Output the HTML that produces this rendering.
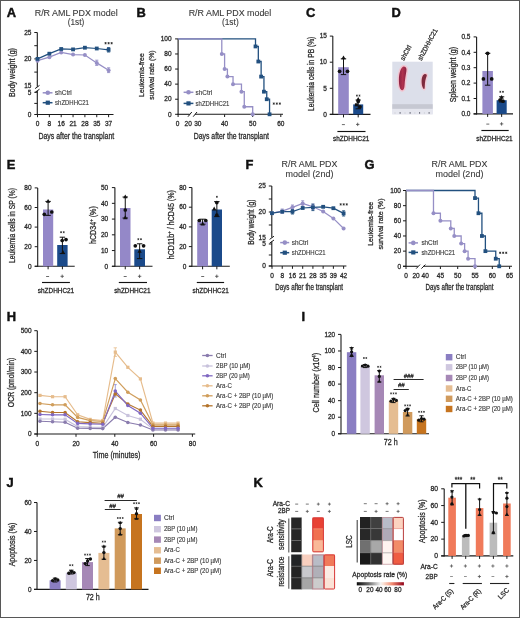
<!DOCTYPE html>
<html><head><meta charset="utf-8"><title>Figure</title>
<style>
html,body{margin:0;padding:0;background:#fff;}
body{width:520px;height:618px;overflow:hidden;position:relative;}
svg{display:block;will-change:transform;filter:blur(0.35px);}
text{font-family:"Liberation Sans", sans-serif;fill:#2a2a2a;stroke:#2a2a2a;stroke-width:0.28px;}
text.t{fill:#3a3a3a;stroke:#3a3a3a;stroke-width:0.1px;}
text.g{fill:#3c3c3c;stroke:#3c3c3c;stroke-width:0.14px;}
text.L{fill:#111;stroke:#111;stroke-width:0.45px;font-weight:bold;}
</style></head><body>
<svg width="520" height="618" viewBox="0 0 520 618">
<rect x="0" y="0" width="520" height="618" fill="#fff"/>
<text x="6.8" y="17.2" font-size="12.9" class="L">A</text>
<text x="76.2" y="15.8" font-size="8.2" text-anchor="middle" fill="#333" textLength="83" lengthAdjust="spacingAndGlyphs" class="t">R/R AML PDX model</text>
<text x="76" y="25.4" font-size="8.2" text-anchor="middle" fill="#333" textLength="16.5" lengthAdjust="spacingAndGlyphs" class="t">(1st)</text>
<line x1="37.3" y1="32.5" x2="37.3" y2="86.8" stroke="#1a1a1a" stroke-width="1.1"/>
<line x1="37.3" y1="90.8" x2="37.3" y2="115" stroke="#1a1a1a" stroke-width="1.1"/>
<line x1="34.3" y1="32.5" x2="37.3" y2="32.5" stroke="#1a1a1a" stroke-width="1"/>
<line x1="34.3" y1="45.7" x2="37.3" y2="45.7" stroke="#1a1a1a" stroke-width="1"/>
<line x1="34.3" y1="58.9" x2="37.3" y2="58.9" stroke="#1a1a1a" stroke-width="1"/>
<line x1="34.3" y1="72.1" x2="37.3" y2="72.1" stroke="#1a1a1a" stroke-width="1"/>
<line x1="34.3" y1="92.3" x2="37.3" y2="92.3" stroke="#1a1a1a" stroke-width="1"/>
<line x1="34.3" y1="103.4" x2="37.3" y2="103.4" stroke="#1a1a1a" stroke-width="1"/>
<line x1="34.3" y1="114.5" x2="37.3" y2="114.5" stroke="#1a1a1a" stroke-width="1"/>
<line x1="35.1" y1="88.6" x2="39.5" y2="85.4" stroke="#1a1a1a" stroke-width="1"/>
<line x1="35.1" y1="92.4" x2="39.5" y2="89.2" stroke="#1a1a1a" stroke-width="1"/>
<text x="31.4" y="34.74" font-size="6.5" text-anchor="end" fill="#333">25</text>
<text x="31.4" y="61.14" font-size="6.5" text-anchor="end" fill="#333">20</text>
<text x="31.4" y="87.84" font-size="6.5" text-anchor="end" fill="#333">15</text>
<text x="31.4" y="94.64" font-size="6.5" text-anchor="end" fill="#333">5</text>
<text x="31.4" y="116.74" font-size="6.5" text-anchor="end" fill="#333">0</text>
<text x="0" y="0" font-size="8.6" text-anchor="middle" transform="translate(14.9 72.5) rotate(-90)" textLength="48.8" lengthAdjust="spacingAndGlyphs">Body weight (g)</text>
<line x1="36.8" y1="114.5" x2="113.5" y2="114.5" stroke="#1a1a1a" stroke-width="1"/>
<line x1="37.5" y1="114.5" x2="37.5" y2="117.2" stroke="#1a1a1a" stroke-width="1"/>
<text x="37.5" y="126.34" font-size="6.5" text-anchor="middle" fill="#333">0</text>
<line x1="49.35" y1="114.5" x2="49.35" y2="117.2" stroke="#1a1a1a" stroke-width="1"/>
<text x="49.35" y="126.34" font-size="6.5" text-anchor="middle" fill="#333">8</text>
<line x1="61.2" y1="114.5" x2="61.2" y2="117.2" stroke="#1a1a1a" stroke-width="1"/>
<text x="61.2" y="126.34" font-size="6.5" text-anchor="middle" fill="#333">16</text>
<line x1="73.05" y1="114.5" x2="73.05" y2="117.2" stroke="#1a1a1a" stroke-width="1"/>
<text x="73.05" y="126.34" font-size="6.5" text-anchor="middle" fill="#333">21</text>
<line x1="84.9" y1="114.5" x2="84.9" y2="117.2" stroke="#1a1a1a" stroke-width="1"/>
<text x="84.9" y="126.34" font-size="6.5" text-anchor="middle" fill="#333">28</text>
<line x1="96.75" y1="114.5" x2="96.75" y2="117.2" stroke="#1a1a1a" stroke-width="1"/>
<text x="96.75" y="126.34" font-size="6.5" text-anchor="middle" fill="#333">35</text>
<line x1="108.6" y1="114.5" x2="108.6" y2="117.2" stroke="#1a1a1a" stroke-width="1"/>
<text x="108.6" y="126.34" font-size="6.5" text-anchor="middle" fill="#333">37</text>
<text x="76.3" y="138.8" font-size="8.6" text-anchor="middle" textLength="75.8" lengthAdjust="spacingAndGlyphs">Days after the transplant</text>
<polyline points="37.5,60.7 49.35,57.2 61.2,52.5 73.05,54.6 84.9,55 96.75,62.9 108.6,70.2" fill="none" stroke="#968fc6" stroke-width="1.25" stroke-linejoin="miter"/>
<polyline points="37.5,58.9 49.35,53.7 61.2,49 73.05,49.4 84.9,47.7 96.75,48.5 108.6,49.8" fill="none" stroke="#22507f" stroke-width="1.25" stroke-linejoin="miter"/>
<line x1="96.75" y1="60.2" x2="96.75" y2="65.4" stroke="#968fc6" stroke-width="0.9"/>
<line x1="95.15" y1="60.2" x2="98.35" y2="60.2" stroke="#968fc6" stroke-width="0.9"/>
<line x1="95.15" y1="65.4" x2="98.35" y2="65.4" stroke="#968fc6" stroke-width="0.9"/>
<line x1="108.6" y1="67.8" x2="108.6" y2="72.6" stroke="#968fc6" stroke-width="0.9"/>
<line x1="107" y1="67.8" x2="110.2" y2="67.8" stroke="#968fc6" stroke-width="0.9"/>
<line x1="107" y1="72.6" x2="110.2" y2="72.6" stroke="#968fc6" stroke-width="0.9"/>
<line x1="108.6" y1="47.6" x2="108.6" y2="52" stroke="#22507f" stroke-width="0.9"/>
<line x1="107" y1="47.6" x2="110.2" y2="47.6" stroke="#22507f" stroke-width="0.9"/>
<line x1="107" y1="52" x2="110.2" y2="52" stroke="#22507f" stroke-width="0.9"/>
<circle cx="37.5" cy="60.7" r="2" fill="#968fc6"/>
<circle cx="49.35" cy="57.2" r="2" fill="#968fc6"/>
<circle cx="61.2" cy="52.5" r="2" fill="#968fc6"/>
<circle cx="73.05" cy="54.6" r="2" fill="#968fc6"/>
<circle cx="84.9" cy="55" r="2" fill="#968fc6"/>
<circle cx="96.75" cy="62.9" r="2" fill="#968fc6"/>
<circle cx="108.6" cy="70.2" r="2" fill="#968fc6"/>
<rect x="35.6" y="57" width="3.8" height="3.8" fill="#22507f"/>
<rect x="47.45" y="51.8" width="3.8" height="3.8" fill="#22507f"/>
<rect x="59.3" y="47.1" width="3.8" height="3.8" fill="#22507f"/>
<rect x="71.15" y="47.5" width="3.8" height="3.8" fill="#22507f"/>
<rect x="83" y="45.8" width="3.8" height="3.8" fill="#22507f"/>
<rect x="94.85" y="46.6" width="3.8" height="3.8" fill="#22507f"/>
<rect x="106.7" y="47.9" width="3.8" height="3.8" fill="#22507f"/>
<path d="M105.57 42.09V44.31M104.6 42.65L106.53 43.76M104.6 43.76L106.53 42.65M108.6 42.09V44.31M107.63 42.65L109.57 43.76M107.63 43.76L109.57 42.65M111.63 42.09V44.31M110.67 42.65L112.6 43.76M110.67 43.76L112.6 42.65" stroke="#2a2a2a" stroke-width="0.81" fill="none"/>
<line x1="42.7" y1="92.8" x2="52.5" y2="92.8" stroke="#968fc6" stroke-width="1.5"/>
<circle cx="47.8" cy="92.8" r="2.3" fill="#968fc6"/>
<text x="55.1" y="94.9" font-size="6.5" fill="#444" textLength="16.6" lengthAdjust="spacingAndGlyphs" class="g">shCtrl</text>
<line x1="42.7" y1="102.7" x2="52.5" y2="102.7" stroke="#22507f" stroke-width="1.5"/>
<rect x="45.7" y="100.6" width="4.2" height="4.2" fill="#22507f"/>
<text x="55.1" y="104.8" font-size="6.5" fill="#444" textLength="33.8" lengthAdjust="spacingAndGlyphs" class="g">shZDHHC21</text>
<text x="136.6" y="17.2" font-size="12.9" class="L">B</text>
<text x="230" y="15.9" font-size="8.2" text-anchor="middle" fill="#333" textLength="82.6" lengthAdjust="spacingAndGlyphs" class="t">R/R AML PDX model</text>
<text x="230.3" y="25.4" font-size="8.2" text-anchor="middle" fill="#333" textLength="16.8" lengthAdjust="spacingAndGlyphs" class="t">(1st)</text>
<line x1="178.1" y1="38.9" x2="178.1" y2="114.8" stroke="#1a1a1a" stroke-width="1.1"/>
<line x1="175.1" y1="114.3" x2="178.1" y2="114.3" stroke="#1a1a1a" stroke-width="1"/>
<line x1="175.1" y1="99.22" x2="178.1" y2="99.22" stroke="#1a1a1a" stroke-width="1"/>
<line x1="175.1" y1="84.14" x2="178.1" y2="84.14" stroke="#1a1a1a" stroke-width="1"/>
<line x1="175.1" y1="69.06" x2="178.1" y2="69.06" stroke="#1a1a1a" stroke-width="1"/>
<line x1="175.1" y1="53.98" x2="178.1" y2="53.98" stroke="#1a1a1a" stroke-width="1"/>
<line x1="175.1" y1="38.9" x2="178.1" y2="38.9" stroke="#1a1a1a" stroke-width="1"/>
<text x="171.6" y="116.54" font-size="6.5" text-anchor="end" fill="#333">0</text>
<text x="171.6" y="101.46" font-size="6.5" text-anchor="end" fill="#333">20</text>
<text x="171.6" y="86.38" font-size="6.5" text-anchor="end" fill="#333">40</text>
<text x="171.6" y="71.3" font-size="6.5" text-anchor="end" fill="#333">60</text>
<text x="171.6" y="56.22" font-size="6.5" text-anchor="end" fill="#333">80</text>
<text x="171.6" y="41.14" font-size="6.5" text-anchor="end" fill="#333">100</text>
<text x="0" y="0" font-size="8" text-anchor="middle" transform="translate(144.4 75.1) rotate(-90)" textLength="43.6" lengthAdjust="spacingAndGlyphs">Leukemia-free</text>
<text x="0" y="0" font-size="8" text-anchor="middle" transform="translate(154 75.1) rotate(-90)" textLength="49.4" lengthAdjust="spacingAndGlyphs">survival rate (%)</text>
<line x1="177.6" y1="114.3" x2="189.8" y2="114.3" stroke="#1a1a1a" stroke-width="1.1"/>
<line x1="195" y1="114.3" x2="283" y2="114.3" stroke="#1a1a1a" stroke-width="1.1"/>
<line x1="188" y1="116.7" x2="191.8" y2="112" stroke="#1a1a1a" stroke-width="1"/>
<line x1="193.2" y1="116.7" x2="197" y2="112" stroke="#1a1a1a" stroke-width="1"/>
<line x1="224.6" y1="114.3" x2="224.6" y2="117" stroke="#1a1a1a" stroke-width="1"/>
<line x1="252.7" y1="114.3" x2="252.7" y2="117" stroke="#1a1a1a" stroke-width="1"/>
<line x1="280.8" y1="114.3" x2="280.8" y2="117" stroke="#1a1a1a" stroke-width="1"/>
<line x1="178.1" y1="114.3" x2="178.1" y2="117" stroke="#1a1a1a" stroke-width="1"/>
<text x="177.6" y="126.34" font-size="6.5" text-anchor="middle" fill="#333">0</text>
<text x="188.2" y="126.34" font-size="6.5" text-anchor="middle" fill="#333">20</text>
<text x="197.8" y="126.34" font-size="6.5" text-anchor="middle" fill="#333">30</text>
<text x="224.6" y="126.34" font-size="6.5" text-anchor="middle" fill="#333">40</text>
<text x="252.7" y="126.34" font-size="6.5" text-anchor="middle" fill="#333">50</text>
<text x="280.8" y="126.34" font-size="6.5" text-anchor="middle" fill="#333">60</text>
<text x="231.3" y="138.8" font-size="8.6" text-anchor="middle" textLength="75.2" lengthAdjust="spacingAndGlyphs">Days after the transplant</text>
<polyline points="178.1,38.9 255.51,38.9 255.51,46.44 258.32,46.44 258.32,61.52 261.13,61.52 261.13,76.6 263.94,76.6 263.94,91.68 266.75,91.68 266.75,99.22 269.56,99.22 269.56,114.3" fill="none" stroke="#22507f" stroke-width="1.3" stroke-linejoin="miter"/>
<polyline points="178.1,38.9 221.79,38.9 221.79,53.98 224.6,53.98 224.6,69.06 227.41,69.06 227.41,76.6 233.03,76.6 233.03,84.14 241.46,84.14 241.46,91.68 244.27,91.68 244.27,106.76 252.7,106.76 252.7,114.3" fill="none" stroke="#968fc6" stroke-width="1.3" stroke-linejoin="miter"/>
<circle cx="221.79" cy="53.98" r="2" fill="#968fc6"/>
<circle cx="224.6" cy="69.06" r="2" fill="#968fc6"/>
<circle cx="227.41" cy="76.6" r="2" fill="#968fc6"/>
<circle cx="233.03" cy="84.14" r="2" fill="#968fc6"/>
<circle cx="241.46" cy="91.68" r="2" fill="#968fc6"/>
<circle cx="244.27" cy="106.76" r="2" fill="#968fc6"/>
<circle cx="252.7" cy="114.3" r="2" fill="#968fc6"/>
<rect x="253.61" y="44.54" width="3.8" height="3.8" fill="#22507f"/>
<rect x="256.42" y="59.62" width="3.8" height="3.8" fill="#22507f"/>
<rect x="259.23" y="74.7" width="3.8" height="3.8" fill="#22507f"/>
<rect x="262.04" y="89.78" width="3.8" height="3.8" fill="#22507f"/>
<rect x="264.85" y="97.32" width="3.8" height="3.8" fill="#22507f"/>
<rect x="267.66" y="112.4" width="3.8" height="3.8" fill="#22507f"/>
<path d="M273.77 102.49V104.71M272.8 103.04L274.73 104.16M272.8 104.16L274.73 103.04M276.8 102.49V104.71M275.83 103.04L277.77 104.16M275.83 104.16L277.77 103.04M279.83 102.49V104.71M278.87 103.04L280.8 104.16M278.87 104.16L280.8 103.04" stroke="#2a2a2a" stroke-width="0.81" fill="none"/>
<line x1="183.6" y1="92.3" x2="193.4" y2="92.3" stroke="#968fc6" stroke-width="1.5"/>
<circle cx="188.5" cy="92.3" r="2.3" fill="#968fc6"/>
<text x="195.6" y="94.6" font-size="6.5" fill="#444" textLength="16.6" lengthAdjust="spacingAndGlyphs" class="g">shCtrl</text>
<line x1="183.6" y1="103.4" x2="193.4" y2="103.4" stroke="#22507f" stroke-width="1.5"/>
<rect x="186.4" y="101.3" width="4.2" height="4.2" fill="#22507f"/>
<text x="195.6" y="105.7" font-size="6.5" fill="#444" textLength="33.8" lengthAdjust="spacingAndGlyphs" class="g">shZDHHC21</text>
<text x="306" y="17.2" font-size="12.9" class="L">C</text>
<line x1="332.8" y1="36.1" x2="332.8" y2="114.9" stroke="#1a1a1a" stroke-width="1.1"/>
<line x1="329.8" y1="114.4" x2="332.8" y2="114.4" stroke="#1a1a1a" stroke-width="1"/>
<line x1="329.8" y1="88.3" x2="332.8" y2="88.3" stroke="#1a1a1a" stroke-width="1"/>
<line x1="329.8" y1="62.2" x2="332.8" y2="62.2" stroke="#1a1a1a" stroke-width="1"/>
<line x1="329.8" y1="36.1" x2="332.8" y2="36.1" stroke="#1a1a1a" stroke-width="1"/>
<text x="326.9" y="116.64" font-size="6.5" text-anchor="end" fill="#333">0</text>
<text x="326.9" y="90.54" font-size="6.5" text-anchor="end" fill="#333">5</text>
<text x="326.9" y="64.44" font-size="6.5" text-anchor="end" fill="#333">10</text>
<text x="326.9" y="38.34" font-size="6.5" text-anchor="end" fill="#333">15</text>
<line x1="329.8" y1="114.4" x2="370.5" y2="114.4" stroke="#1a1a1a" stroke-width="1.1"/>
<rect x="338.2" y="67.2" width="10.6" height="47.2" fill="#9488c8"/>
<line x1="343.5" y1="114.4" x2="343.5" y2="117.4" stroke="#1a1a1a" stroke-width="1"/>
<rect x="353.2" y="104.4" width="10" height="10" fill="#1b4a8a"/>
<line x1="358.2" y1="114.4" x2="358.2" y2="117.4" stroke="#1a1a1a" stroke-width="1"/>
<line x1="343.5" y1="58.8" x2="343.5" y2="74.6" stroke="#111" stroke-width="1"/>
<line x1="340.8" y1="58.8" x2="346.2" y2="58.8" stroke="#111" stroke-width="1"/>
<line x1="340.8" y1="74.6" x2="346.2" y2="74.6" stroke="#111" stroke-width="1"/>
<path d="M343.5 55.48L345.65 59.35L341.35 59.35Z" fill="#111"/>
<circle cx="339.6" cy="71.3" r="1.85" fill="#111"/>
<circle cx="347.5" cy="71.3" r="1.85" fill="#111"/>
<line x1="358.2" y1="100" x2="358.2" y2="108.8" stroke="#111" stroke-width="1"/>
<line x1="355.6" y1="100" x2="360.8" y2="100" stroke="#111" stroke-width="1"/>
<line x1="355.6" y1="108.8" x2="360.8" y2="108.8" stroke="#111" stroke-width="1"/>
<path d="M358.2 96.88L360.35 100.75L356.05 100.75Z" fill="#111"/>
<circle cx="358.2" cy="101.4" r="1.85" fill="#111"/>
<rect x="354.9" y="103.3" width="3" height="3" fill="#111"/>
<circle cx="360" cy="106.8" r="1.85" fill="#111"/>
<path d="M356.89 94.64V96.56M356.05 95.12L357.72 96.08M356.05 96.08L357.72 95.12M359.51 94.64V96.56M358.68 95.12L360.35 96.08M358.68 96.08L360.35 95.12" stroke="#2a2a2a" stroke-width="0.7" fill="none"/>
<text x="0" y="0" font-size="8.6" text-anchor="middle" transform="translate(314 73.8) rotate(-90)" textLength="74.3" lengthAdjust="spacingAndGlyphs">Leukemia cells in PB (%)</text>
<line x1="341.9" y1="124.6" x2="344.9" y2="124.6" stroke="#444" stroke-width="0.8"/>
<line x1="356" y1="124.4" x2="359.4" y2="124.4" stroke="#444" stroke-width="0.8"/>
<line x1="357.7" y1="122.7" x2="357.7" y2="126.1" stroke="#444" stroke-width="0.8"/>
<line x1="337.4" y1="131.5" x2="365.5" y2="131.5" stroke="#111" stroke-width="1.15"/>
<text x="351.2" y="141" font-size="6.5" text-anchor="middle" fill="#333" textLength="36.3" lengthAdjust="spacingAndGlyphs">shZDHHC21</text>
<text x="391.4" y="17.2" font-size="12.9" class="L">D</text>
<rect x="392.3" y="61.7" width="40.4" height="52.6" fill="#dcdfea"/>
<rect x="392.3" y="104.2" width="40.4" height="4.7" fill="#c6c8d2"/>
<rect x="392.3" y="108.9" width="40.4" height="5.4" fill="#e6e7ef"/>
<line x1="400.1" y1="112" x2="400.1" y2="113.8" stroke="#6a6d79" stroke-width="1"/>
<line x1="410.1" y1="112" x2="410.1" y2="113.8" stroke="#6a6d79" stroke-width="1"/>
<line x1="419.6" y1="112" x2="419.6" y2="113.8" stroke="#6a6d79" stroke-width="1"/>
<line x1="429.1" y1="112" x2="429.1" y2="113.8" stroke="#6a6d79" stroke-width="1"/>
<line x1="395" y1="112.6" x2="395" y2="113.4" stroke="#a0a3ad" stroke-width="0.6"/>
<line x1="405" y1="112.6" x2="405" y2="113.4" stroke="#a0a3ad" stroke-width="0.6"/>
<line x1="414.8" y1="112.6" x2="414.8" y2="113.4" stroke="#a0a3ad" stroke-width="0.6"/>
<line x1="424.4" y1="112.6" x2="424.4" y2="113.4" stroke="#a0a3ad" stroke-width="0.6"/>
<defs><filter id="bl" x="-50%" y="-50%" width="200%" height="200%"><feGaussianBlur stdDeviation="0.45"/></filter><linearGradient id="sp1" x1="0" x2="1" y1="0" y2="0"><stop offset="0" stop-color="#8c2242"/><stop offset="0.5" stop-color="#b0324f"/><stop offset="1" stop-color="#862240"/></linearGradient></defs>
<g filter="url(#bl)">
<path d="M404 66.4 C406.2 66.6 406.8 68.5 406.4 71 C405.8 75 404.8 80 404.6 85 C404.4 88.5 403.6 90.4 402.2 90.2 C400 89.8 398.9 86 398.9 80 C398.9 73 401 66.3 404 66.4 Z" fill="none" stroke="#f2c4d0" stroke-width="3.0"/>
<path d="M424.9 74.1 C426.3 74.0 427.2 74.8 426.6 76.2 C425.6 78.5 424.9 82 424.8 86 C424.7 88 424.6 89.2 424.0 89.0 C422.6 88.4 421.6 85 421.6 81.5 C421.6 77.5 423 74.2 424.9 74.1 Z" fill="none" stroke="#f2cad4" stroke-width="2.8"/>
<path d="M404 66.4 C406.2 66.6 406.8 68.5 406.4 71 C405.8 75 404.8 80 404.6 85 C404.4 88.5 403.6 90.4 402.2 90.2 C400 89.8 398.9 86 398.9 80 C398.9 73 401 66.3 404 66.4 Z" fill="url(#sp1)"/>
<path d="M424.9 74.1 C426.3 74.0 427.2 74.8 426.6 76.2 C425.6 78.5 424.9 82 424.8 86 C424.7 88 424.6 89.2 424.0 89.0 C422.6 88.4 421.6 85 421.6 81.5 C421.6 77.5 423 74.2 424.9 74.1 Z" fill="#7e2a3c"/>
</g>
<text x="0" y="0" font-size="6.8" fill="#333" transform="translate(404.0 61.0) rotate(-62)" textLength="16.2" lengthAdjust="spacingAndGlyphs">shCtrl</text>
<text x="0" y="0" font-size="6.8" fill="#333" transform="translate(421.4 61.0) rotate(-62)" textLength="35.0" lengthAdjust="spacingAndGlyphs">shZDHHC21</text>
<line x1="476.6" y1="36.9" x2="476.6" y2="114.4" stroke="#1a1a1a" stroke-width="1.1"/>
<line x1="473.6" y1="113.9" x2="476.6" y2="113.9" stroke="#1a1a1a" stroke-width="1"/>
<line x1="473.6" y1="98.5" x2="476.6" y2="98.5" stroke="#1a1a1a" stroke-width="1"/>
<line x1="473.6" y1="83.1" x2="476.6" y2="83.1" stroke="#1a1a1a" stroke-width="1"/>
<line x1="473.6" y1="67.7" x2="476.6" y2="67.7" stroke="#1a1a1a" stroke-width="1"/>
<line x1="473.6" y1="52.3" x2="476.6" y2="52.3" stroke="#1a1a1a" stroke-width="1"/>
<line x1="473.6" y1="36.9" x2="476.6" y2="36.9" stroke="#1a1a1a" stroke-width="1"/>
<text x="470.5" y="116.14" font-size="6.5" text-anchor="end" fill="#333">0.0</text>
<text x="470.5" y="100.74" font-size="6.5" text-anchor="end" fill="#333">0.1</text>
<text x="470.5" y="85.34" font-size="6.5" text-anchor="end" fill="#333">0.2</text>
<text x="470.5" y="69.94" font-size="6.5" text-anchor="end" fill="#333">0.3</text>
<text x="470.5" y="54.54" font-size="6.5" text-anchor="end" fill="#333">0.4</text>
<text x="470.5" y="39.14" font-size="6.5" text-anchor="end" fill="#333">0.5</text>
<line x1="473.6" y1="113.9" x2="513" y2="113.9" stroke="#1a1a1a" stroke-width="1.1"/>
<rect x="482.4" y="71" width="10.5" height="42.9" fill="#9488c8"/>
<line x1="487.65" y1="113.9" x2="487.65" y2="116.9" stroke="#1a1a1a" stroke-width="1"/>
<rect x="496.6" y="100.2" width="10.1" height="13.7" fill="#1b4a8a"/>
<line x1="501.65" y1="113.9" x2="501.65" y2="116.9" stroke="#1a1a1a" stroke-width="1"/>
<line x1="487.65" y1="53.3" x2="487.65" y2="85.2" stroke="#111" stroke-width="1"/>
<line x1="484.95" y1="53.3" x2="490.35" y2="53.3" stroke="#111" stroke-width="1"/>
<line x1="484.95" y1="85.2" x2="490.35" y2="85.2" stroke="#111" stroke-width="1"/>
<circle cx="487.6" cy="53.3" r="1.85" fill="#111"/>
<circle cx="483.4" cy="78.9" r="1.85" fill="#111"/>
<circle cx="491.7" cy="78.9" r="1.85" fill="#111"/>
<line x1="501.65" y1="96.8" x2="501.65" y2="102" stroke="#111" stroke-width="1"/>
<line x1="499.05" y1="96.8" x2="504.25" y2="96.8" stroke="#111" stroke-width="1"/>
<line x1="499.05" y1="102" x2="504.25" y2="102" stroke="#111" stroke-width="1"/>
<path d="M501.6 94.88L503.75 98.75L499.45 98.75Z" fill="#111"/>
<circle cx="500" cy="100" r="1.85" fill="#111"/>
<circle cx="503" cy="101.2" r="1.85" fill="#111"/>
<path d="M500.34 90.84V92.76M499.5 91.32L501.17 92.28M499.5 92.28L501.17 91.32M502.96 90.84V92.76M502.13 91.32L503.8 92.28M502.13 92.28L503.8 91.32" stroke="#2a2a2a" stroke-width="0.7" fill="none"/>
<text x="0" y="0" font-size="8.6" text-anchor="middle" transform="translate(456 74.5) rotate(-90)" textLength="55.4" lengthAdjust="spacingAndGlyphs">Spleen weight (g)</text>
<line x1="486.3" y1="124.1" x2="489.3" y2="124.1" stroke="#444" stroke-width="0.8"/>
<line x1="499.9" y1="123.9" x2="503.3" y2="123.9" stroke="#444" stroke-width="0.8"/>
<line x1="501.6" y1="122.2" x2="501.6" y2="125.6" stroke="#444" stroke-width="0.8"/>
<line x1="481.4" y1="130.5" x2="508.7" y2="130.5" stroke="#111" stroke-width="1.15"/>
<text x="494.5" y="140.5" font-size="6.5" text-anchor="middle" fill="#333" textLength="36.3" lengthAdjust="spacingAndGlyphs">shZDHHC21</text>
<text x="6.8" y="169.4" font-size="12.9" class="L">E</text>
<line x1="37.7" y1="187.9" x2="37.7" y2="266.8" stroke="#1a1a1a" stroke-width="1.1"/>
<line x1="34.7" y1="266.3" x2="37.7" y2="266.3" stroke="#1a1a1a" stroke-width="1"/>
<line x1="34.7" y1="246.7" x2="37.7" y2="246.7" stroke="#1a1a1a" stroke-width="1"/>
<line x1="34.7" y1="227.1" x2="37.7" y2="227.1" stroke="#1a1a1a" stroke-width="1"/>
<line x1="34.7" y1="207.5" x2="37.7" y2="207.5" stroke="#1a1a1a" stroke-width="1"/>
<line x1="34.7" y1="187.9" x2="37.7" y2="187.9" stroke="#1a1a1a" stroke-width="1"/>
<text x="31.6" y="268.54" font-size="6.5" text-anchor="end" fill="#333">0</text>
<text x="31.6" y="248.94" font-size="6.5" text-anchor="end" fill="#333">20</text>
<text x="31.6" y="229.34" font-size="6.5" text-anchor="end" fill="#333">40</text>
<text x="31.6" y="209.74" font-size="6.5" text-anchor="end" fill="#333">60</text>
<text x="31.6" y="190.14" font-size="6.5" text-anchor="end" fill="#333">80</text>
<line x1="34.7" y1="266.3" x2="74.7" y2="266.3" stroke="#1a1a1a" stroke-width="1.1"/>
<rect x="43" y="209.5" width="10.2" height="56.8" fill="#9488c8"/>
<line x1="48.1" y1="266.3" x2="48.1" y2="269.3" stroke="#1a1a1a" stroke-width="1"/>
<rect x="57.2" y="245" width="10.4" height="21.3" fill="#1b4a8a"/>
<line x1="62.4" y1="266.3" x2="62.4" y2="269.3" stroke="#1a1a1a" stroke-width="1"/>
<line x1="48.1" y1="201.4" x2="48.1" y2="215.4" stroke="#111" stroke-width="1"/>
<line x1="45.4" y1="201.4" x2="50.8" y2="201.4" stroke="#111" stroke-width="1"/>
<line x1="45.4" y1="215.4" x2="50.8" y2="215.4" stroke="#111" stroke-width="1"/>
<path d="M48.1 198.88L50.25 202.75L45.95 202.75Z" fill="#111"/>
<circle cx="44.3" cy="214.3" r="1.85" fill="#111"/>
<circle cx="51.8" cy="212" r="1.85" fill="#111"/>
<line x1="62.4" y1="237.2" x2="62.4" y2="253.6" stroke="#111" stroke-width="1"/>
<line x1="59.7" y1="237.2" x2="65.1" y2="237.2" stroke="#111" stroke-width="1"/>
<line x1="59.7" y1="253.6" x2="65.1" y2="253.6" stroke="#111" stroke-width="1"/>
<circle cx="66" cy="239.6" r="1.85" fill="#111"/>
<circle cx="62.2" cy="240.5" r="1.85" fill="#111"/>
<path d="M63 250.08L65.15 253.95L60.85 253.95Z" fill="#111"/>
<path d="M61.09 231.24V233.16M60.25 231.72L61.92 232.68M60.25 232.68L61.92 231.72M63.71 231.24V233.16M62.88 231.72L64.55 232.68M62.88 232.68L64.55 231.72" stroke="#2a2a2a" stroke-width="0.7" fill="none"/>
<text x="0" y="0" font-size="8.6" text-anchor="middle" transform="translate(14.9 225.5) rotate(-90)" textLength="74.9" lengthAdjust="spacingAndGlyphs">Leukemia cells in SP (%)</text>
<line x1="46.1" y1="276.5" x2="49.1" y2="276.5" stroke="#444" stroke-width="0.8"/>
<line x1="60.5" y1="276.3" x2="63.9" y2="276.3" stroke="#444" stroke-width="0.8"/>
<line x1="62.2" y1="274.6" x2="62.2" y2="278" stroke="#444" stroke-width="0.8"/>
<line x1="42" y1="282.5" x2="69.9" y2="282.5" stroke="#111" stroke-width="1.15"/>
<text x="56" y="292.9" font-size="6.5" text-anchor="middle" fill="#333" textLength="36.3" lengthAdjust="spacingAndGlyphs">shZDHHC21</text>
<line x1="114.9" y1="187.6" x2="114.9" y2="266.8" stroke="#1a1a1a" stroke-width="1.1"/>
<line x1="111.9" y1="266.3" x2="114.9" y2="266.3" stroke="#1a1a1a" stroke-width="1"/>
<line x1="111.9" y1="250.56" x2="114.9" y2="250.56" stroke="#1a1a1a" stroke-width="1"/>
<line x1="111.9" y1="234.82" x2="114.9" y2="234.82" stroke="#1a1a1a" stroke-width="1"/>
<line x1="111.9" y1="219.08" x2="114.9" y2="219.08" stroke="#1a1a1a" stroke-width="1"/>
<line x1="111.9" y1="203.34" x2="114.9" y2="203.34" stroke="#1a1a1a" stroke-width="1"/>
<line x1="111.9" y1="187.6" x2="114.9" y2="187.6" stroke="#1a1a1a" stroke-width="1"/>
<text x="108.2" y="268.54" font-size="6.5" text-anchor="end" fill="#333">0</text>
<text x="108.2" y="252.8" font-size="6.5" text-anchor="end" fill="#333">10</text>
<text x="108.2" y="237.06" font-size="6.5" text-anchor="end" fill="#333">20</text>
<text x="108.2" y="221.32" font-size="6.5" text-anchor="end" fill="#333">30</text>
<text x="108.2" y="205.58" font-size="6.5" text-anchor="end" fill="#333">40</text>
<text x="108.2" y="189.84" font-size="6.5" text-anchor="end" fill="#333">50</text>
<line x1="111.9" y1="266.3" x2="152.5" y2="266.3" stroke="#1a1a1a" stroke-width="1.1"/>
<rect x="120" y="208" width="10.5" height="58.3" fill="#9488c8"/>
<line x1="125.25" y1="266.3" x2="125.25" y2="269.3" stroke="#1a1a1a" stroke-width="1"/>
<rect x="134.3" y="249.3" width="10.7" height="17" fill="#1b4a8a"/>
<line x1="139.65" y1="266.3" x2="139.65" y2="269.3" stroke="#1a1a1a" stroke-width="1"/>
<line x1="125.25" y1="197" x2="125.25" y2="218" stroke="#111" stroke-width="1"/>
<line x1="122.55" y1="197" x2="127.95" y2="197" stroke="#111" stroke-width="1"/>
<line x1="122.55" y1="218" x2="127.95" y2="218" stroke="#111" stroke-width="1"/>
<path d="M125.3 194.48L127.45 198.35L123.15 198.35Z" fill="#111"/>
<circle cx="125.3" cy="210" r="1.85" fill="#111"/>
<path d="M125.3 215.28L127.45 219.15L123.15 219.15Z" fill="#111"/>
<line x1="139.65" y1="243.8" x2="139.65" y2="258.6" stroke="#111" stroke-width="1"/>
<line x1="136.95" y1="243.8" x2="142.35" y2="243.8" stroke="#111" stroke-width="1"/>
<line x1="136.95" y1="258.6" x2="142.35" y2="258.6" stroke="#111" stroke-width="1"/>
<circle cx="135.3" cy="245.8" r="1.85" fill="#111"/>
<circle cx="143.6" cy="245.8" r="1.85" fill="#111"/>
<path d="M139.6 248.88L141.75 252.75L137.45 252.75Z" fill="#111"/>
<path d="M138.34 238.24V240.16M137.5 238.72L139.17 239.68M137.5 239.68L139.17 238.72M140.96 238.24V240.16M140.13 238.72L141.8 239.68M140.13 239.68L141.8 238.72" stroke="#2a2a2a" stroke-width="0.7" fill="none"/>
<text x="0" y="0" font-size="8.6" text-anchor="middle" transform="translate(95.9 225.1) rotate(-90)" textLength="37.8" lengthAdjust="spacingAndGlyphs">hCD34<tspan font-size="5.4" dy="-3">+</tspan><tspan dy="3"> (%)</tspan></text>
<line x1="123.7" y1="276.5" x2="126.7" y2="276.5" stroke="#444" stroke-width="0.8"/>
<line x1="137.9" y1="276.3" x2="141.3" y2="276.3" stroke="#444" stroke-width="0.8"/>
<line x1="139.6" y1="274.6" x2="139.6" y2="278" stroke="#444" stroke-width="0.8"/>
<line x1="118.8" y1="282.5" x2="147" y2="282.5" stroke="#111" stroke-width="1.15"/>
<text x="132.3" y="292.9" font-size="6.5" text-anchor="middle" fill="#333" textLength="36.3" lengthAdjust="spacingAndGlyphs">shZDHHC21</text>
<line x1="191.9" y1="187.5" x2="191.9" y2="266.8" stroke="#1a1a1a" stroke-width="1.1"/>
<line x1="188.9" y1="266.3" x2="191.9" y2="266.3" stroke="#1a1a1a" stroke-width="1"/>
<line x1="188.9" y1="246.6" x2="191.9" y2="246.6" stroke="#1a1a1a" stroke-width="1"/>
<line x1="188.9" y1="226.9" x2="191.9" y2="226.9" stroke="#1a1a1a" stroke-width="1"/>
<line x1="188.9" y1="207.2" x2="191.9" y2="207.2" stroke="#1a1a1a" stroke-width="1"/>
<line x1="188.9" y1="187.5" x2="191.9" y2="187.5" stroke="#1a1a1a" stroke-width="1"/>
<text x="186.4" y="268.54" font-size="6.5" text-anchor="end" fill="#333">0</text>
<text x="186.4" y="248.84" font-size="6.5" text-anchor="end" fill="#333">20</text>
<text x="186.4" y="229.14" font-size="6.5" text-anchor="end" fill="#333">40</text>
<text x="186.4" y="209.44" font-size="6.5" text-anchor="end" fill="#333">60</text>
<text x="186.4" y="189.74" font-size="6.5" text-anchor="end" fill="#333">80</text>
<line x1="188.9" y1="266.3" x2="229.8" y2="266.3" stroke="#1a1a1a" stroke-width="1.1"/>
<rect x="197.2" y="221.5" width="10.8" height="44.8" fill="#9488c8"/>
<line x1="202.6" y1="266.3" x2="202.6" y2="269.3" stroke="#1a1a1a" stroke-width="1"/>
<rect x="211.7" y="209.5" width="10.3" height="56.8" fill="#1b4a8a"/>
<line x1="216.85" y1="266.3" x2="216.85" y2="269.3" stroke="#1a1a1a" stroke-width="1"/>
<line x1="202.6" y1="219.2" x2="202.6" y2="224.2" stroke="#111" stroke-width="1"/>
<line x1="199.7" y1="219.2" x2="205.5" y2="219.2" stroke="#111" stroke-width="1"/>
<line x1="199.7" y1="224.2" x2="205.5" y2="224.2" stroke="#111" stroke-width="1"/>
<circle cx="199.3" cy="220.5" r="1.85" fill="#111"/>
<circle cx="205.8" cy="220.5" r="1.85" fill="#111"/>
<path d="M202.7 221.68L204.85 225.55L200.55 225.55Z" fill="#111"/>
<line x1="216.85" y1="201.6" x2="216.85" y2="216.6" stroke="#111" stroke-width="1"/>
<line x1="214.15" y1="201.6" x2="219.55" y2="201.6" stroke="#111" stroke-width="1"/>
<line x1="214.15" y1="216.6" x2="219.55" y2="216.6" stroke="#111" stroke-width="1"/>
<circle cx="216.8" cy="202.6" r="1.85" fill="#111"/>
<path d="M214.2 206.58L216.35 210.45L212.05 210.45Z" fill="#111"/>
<circle cx="216.8" cy="215.2" r="1.85" fill="#111"/>
<path d="M216.85 195.84V197.76M216.01 196.32L217.69 197.28M216.01 197.28L217.69 196.32" stroke="#2a2a2a" stroke-width="0.7" fill="none"/>
<text x="0" y="0" font-size="8.6" text-anchor="middle" transform="translate(173.8 224.7) rotate(-90)" textLength="69.1" lengthAdjust="spacingAndGlyphs">hCD11b<tspan font-size="5.4" dy="-3">+</tspan><tspan dy="3"> / hCD45 (%)</tspan></text>
<line x1="201.2" y1="276.5" x2="204.2" y2="276.5" stroke="#444" stroke-width="0.8"/>
<line x1="215.1" y1="276.3" x2="218.5" y2="276.3" stroke="#444" stroke-width="0.8"/>
<line x1="216.8" y1="274.6" x2="216.8" y2="278" stroke="#444" stroke-width="0.8"/>
<line x1="196.8" y1="282.5" x2="224.1" y2="282.5" stroke="#111" stroke-width="1.15"/>
<text x="210.7" y="292.9" font-size="6.5" text-anchor="middle" fill="#333" textLength="36.3" lengthAdjust="spacingAndGlyphs">shZDHHC21</text>
<text x="245.4" y="169" font-size="12.9" class="L">F</text>
<text x="309.5" y="166.6" font-size="8.2" text-anchor="middle" fill="#333" textLength="55.9" lengthAdjust="spacingAndGlyphs" class="t">R/R AML PDX</text>
<text x="309.4" y="177.1" font-size="8.2" text-anchor="middle" fill="#333" textLength="48" lengthAdjust="spacingAndGlyphs" class="t">model (2nd)</text>
<line x1="271.8" y1="186" x2="271.8" y2="237.6" stroke="#1a1a1a" stroke-width="1.1"/>
<line x1="271.8" y1="241.6" x2="271.8" y2="266.5" stroke="#1a1a1a" stroke-width="1.1"/>
<line x1="268.8" y1="186" x2="271.8" y2="186" stroke="#1a1a1a" stroke-width="1"/>
<line x1="268.8" y1="199" x2="271.8" y2="199" stroke="#1a1a1a" stroke-width="1"/>
<line x1="268.8" y1="212" x2="271.8" y2="212" stroke="#1a1a1a" stroke-width="1"/>
<line x1="268.8" y1="225" x2="271.8" y2="225" stroke="#1a1a1a" stroke-width="1"/>
<line x1="268.8" y1="244" x2="271.8" y2="244" stroke="#1a1a1a" stroke-width="1"/>
<line x1="268.8" y1="255" x2="271.8" y2="255" stroke="#1a1a1a" stroke-width="1"/>
<line x1="268.8" y1="266" x2="271.8" y2="266" stroke="#1a1a1a" stroke-width="1"/>
<line x1="269.6" y1="239.4" x2="274" y2="236.2" stroke="#1a1a1a" stroke-width="1"/>
<line x1="269.6" y1="243.2" x2="274" y2="240" stroke="#1a1a1a" stroke-width="1"/>
<text x="265.8" y="188.24" font-size="6.5" text-anchor="end" fill="#333">25</text>
<text x="265.8" y="214.24" font-size="6.5" text-anchor="end" fill="#333">20</text>
<text x="265.8" y="239.74" font-size="6.5" text-anchor="end" fill="#333">15</text>
<text x="265.8" y="246.24" font-size="6.5" text-anchor="end" fill="#333">5</text>
<text x="265.8" y="268.24" font-size="6.5" text-anchor="end" fill="#333">0</text>
<text x="0" y="0" font-size="8.6" text-anchor="middle" transform="translate(254 222.2) rotate(-90)" textLength="45.1" lengthAdjust="spacingAndGlyphs">Body weight (g)</text>
<line x1="268.8" y1="266" x2="346.4" y2="266" stroke="#1a1a1a" stroke-width="1.1"/>
<line x1="272" y1="266" x2="272" y2="268.8" stroke="#1a1a1a" stroke-width="1"/>
<text x="272" y="278.44" font-size="6.5" text-anchor="middle" fill="#333">0</text>
<line x1="282.23" y1="266" x2="282.23" y2="268.8" stroke="#1a1a1a" stroke-width="1"/>
<text x="282.23" y="278.44" font-size="6.5" text-anchor="middle" fill="#333">8</text>
<line x1="292.46" y1="266" x2="292.46" y2="268.8" stroke="#1a1a1a" stroke-width="1"/>
<text x="292.46" y="278.44" font-size="6.5" text-anchor="middle" fill="#333">16</text>
<line x1="302.69" y1="266" x2="302.69" y2="268.8" stroke="#1a1a1a" stroke-width="1"/>
<text x="302.69" y="278.44" font-size="6.5" text-anchor="middle" fill="#333">21</text>
<line x1="312.92" y1="266" x2="312.92" y2="268.8" stroke="#1a1a1a" stroke-width="1"/>
<text x="312.92" y="278.44" font-size="6.5" text-anchor="middle" fill="#333">28</text>
<line x1="323.15" y1="266" x2="323.15" y2="268.8" stroke="#1a1a1a" stroke-width="1"/>
<text x="323.15" y="278.44" font-size="6.5" text-anchor="middle" fill="#333">35</text>
<line x1="333.38" y1="266" x2="333.38" y2="268.8" stroke="#1a1a1a" stroke-width="1"/>
<text x="333.38" y="278.44" font-size="6.5" text-anchor="middle" fill="#333">39</text>
<line x1="343.61" y1="266" x2="343.61" y2="268.8" stroke="#1a1a1a" stroke-width="1"/>
<text x="343.61" y="278.44" font-size="6.5" text-anchor="middle" fill="#333">42</text>
<text x="309.2" y="289.8" font-size="8.4" text-anchor="middle" textLength="67.8" lengthAdjust="spacingAndGlyphs">Days after the transplant</text>
<polyline points="272,213.2 282.23,211.2 292.46,207.3 302.69,203.4 312.92,206.8 323.15,211.5 333.38,218.4 343.61,228.5" fill="none" stroke="#968fc6" stroke-width="1.25" stroke-linejoin="miter"/>
<polyline points="272,213.2 282.23,211.7 292.46,211.7 302.69,208 312.92,207.3 323.15,206.8 333.38,208.2 343.61,213.4" fill="none" stroke="#22507f" stroke-width="1.25" stroke-linejoin="miter"/>
<line x1="282.23" y1="209" x2="282.23" y2="213.4" stroke="#968fc6" stroke-width="0.9"/>
<line x1="280.73" y1="209" x2="283.73" y2="209" stroke="#968fc6" stroke-width="0.9"/>
<line x1="280.73" y1="213.4" x2="283.73" y2="213.4" stroke="#968fc6" stroke-width="0.9"/>
<line x1="292.46" y1="205" x2="292.46" y2="209.6" stroke="#968fc6" stroke-width="0.9"/>
<line x1="290.96" y1="205" x2="293.96" y2="205" stroke="#968fc6" stroke-width="0.9"/>
<line x1="290.96" y1="209.6" x2="293.96" y2="209.6" stroke="#968fc6" stroke-width="0.9"/>
<line x1="302.69" y1="200.8" x2="302.69" y2="206" stroke="#968fc6" stroke-width="0.9"/>
<line x1="301.19" y1="200.8" x2="304.19" y2="200.8" stroke="#968fc6" stroke-width="0.9"/>
<line x1="301.19" y1="206" x2="304.19" y2="206" stroke="#968fc6" stroke-width="0.9"/>
<line x1="312.92" y1="204" x2="312.92" y2="209.6" stroke="#968fc6" stroke-width="0.9"/>
<line x1="311.42" y1="204" x2="314.42" y2="204" stroke="#968fc6" stroke-width="0.9"/>
<line x1="311.42" y1="209.6" x2="314.42" y2="209.6" stroke="#968fc6" stroke-width="0.9"/>
<line x1="292.46" y1="209.4" x2="292.46" y2="214" stroke="#22507f" stroke-width="0.9"/>
<line x1="290.96" y1="209.4" x2="293.96" y2="209.4" stroke="#22507f" stroke-width="0.9"/>
<line x1="290.96" y1="214" x2="293.96" y2="214" stroke="#22507f" stroke-width="0.9"/>
<line x1="312.92" y1="204.2" x2="312.92" y2="210.6" stroke="#22507f" stroke-width="0.9"/>
<line x1="311.42" y1="204.2" x2="314.42" y2="204.2" stroke="#22507f" stroke-width="0.9"/>
<line x1="311.42" y1="210.6" x2="314.42" y2="210.6" stroke="#22507f" stroke-width="0.9"/>
<line x1="343.61" y1="210.8" x2="343.61" y2="216" stroke="#22507f" stroke-width="0.9"/>
<line x1="342.11" y1="210.8" x2="345.11" y2="210.8" stroke="#22507f" stroke-width="0.9"/>
<line x1="342.11" y1="216" x2="345.11" y2="216" stroke="#22507f" stroke-width="0.9"/>
<circle cx="272" cy="213.2" r="2" fill="#968fc6"/>
<circle cx="282.23" cy="211.2" r="2" fill="#968fc6"/>
<circle cx="292.46" cy="207.3" r="2" fill="#968fc6"/>
<circle cx="302.69" cy="203.4" r="2" fill="#968fc6"/>
<circle cx="312.92" cy="206.8" r="2" fill="#968fc6"/>
<circle cx="323.15" cy="211.5" r="2" fill="#968fc6"/>
<circle cx="333.38" cy="218.4" r="2" fill="#968fc6"/>
<circle cx="343.61" cy="228.5" r="2" fill="#968fc6"/>
<rect x="270.1" y="211.3" width="3.8" height="3.8" fill="#22507f"/>
<rect x="280.33" y="209.8" width="3.8" height="3.8" fill="#22507f"/>
<rect x="290.56" y="209.8" width="3.8" height="3.8" fill="#22507f"/>
<rect x="300.79" y="206.1" width="3.8" height="3.8" fill="#22507f"/>
<rect x="311.02" y="205.4" width="3.8" height="3.8" fill="#22507f"/>
<rect x="321.25" y="204.9" width="3.8" height="3.8" fill="#22507f"/>
<rect x="331.48" y="206.3" width="3.8" height="3.8" fill="#22507f"/>
<rect x="341.71" y="211.5" width="3.8" height="3.8" fill="#22507f"/>
<path d="M340.67 203.29V205.51M339.7 203.84L341.63 204.96M339.7 204.96L341.63 203.84M343.7 203.29V205.51M342.73 203.84L344.67 204.96M342.73 204.96L344.67 203.84M346.73 203.29V205.51M345.77 203.84L347.7 204.96M345.77 204.96L347.7 203.84" stroke="#2a2a2a" stroke-width="0.81" fill="none"/>
<line x1="280.2" y1="242.6" x2="289.2" y2="242.6" stroke="#968fc6" stroke-width="1.5"/>
<circle cx="284.8" cy="242.6" r="2.3" fill="#968fc6"/>
<text x="291.8" y="244.8" font-size="6.5" fill="#444" textLength="16.6" lengthAdjust="spacingAndGlyphs" class="g">shCtrl</text>
<line x1="280.2" y1="252.7" x2="289.2" y2="252.7" stroke="#22507f" stroke-width="1.5"/>
<rect x="282.7" y="250.6" width="4.2" height="4.2" fill="#22507f"/>
<text x="291.8" y="254.9" font-size="6.5" fill="#444" textLength="33.8" lengthAdjust="spacingAndGlyphs" class="g">shZDHHC21</text>
<text x="364.6" y="169.2" font-size="12.9" class="L">G</text>
<text x="459.5" y="166.6" font-size="8.2" text-anchor="middle" fill="#333" textLength="55.9" lengthAdjust="spacingAndGlyphs" class="t">R/R AML PDX</text>
<text x="459.4" y="177.1" font-size="8.2" text-anchor="middle" fill="#333" textLength="48" lengthAdjust="spacingAndGlyphs" class="t">model (2nd)</text>
<line x1="406" y1="190.5" x2="406" y2="266.8" stroke="#1a1a1a" stroke-width="1.1"/>
<line x1="403" y1="266.3" x2="406" y2="266.3" stroke="#1a1a1a" stroke-width="1"/>
<line x1="403" y1="251.14" x2="406" y2="251.14" stroke="#1a1a1a" stroke-width="1"/>
<line x1="403" y1="235.98" x2="406" y2="235.98" stroke="#1a1a1a" stroke-width="1"/>
<line x1="403" y1="220.82" x2="406" y2="220.82" stroke="#1a1a1a" stroke-width="1"/>
<line x1="403" y1="205.66" x2="406" y2="205.66" stroke="#1a1a1a" stroke-width="1"/>
<line x1="403" y1="190.5" x2="406" y2="190.5" stroke="#1a1a1a" stroke-width="1"/>
<text x="401" y="268.54" font-size="6.5" text-anchor="end" fill="#333">0</text>
<text x="401" y="253.38" font-size="6.5" text-anchor="end" fill="#333">20</text>
<text x="401" y="238.22" font-size="6.5" text-anchor="end" fill="#333">40</text>
<text x="401" y="223.06" font-size="6.5" text-anchor="end" fill="#333">60</text>
<text x="401" y="207.9" font-size="6.5" text-anchor="end" fill="#333">80</text>
<text x="401" y="192.74" font-size="6.5" text-anchor="end" fill="#333">100</text>
<text x="0" y="0" font-size="8" text-anchor="middle" transform="translate(373.2 223.9) rotate(-90)" textLength="43.8" lengthAdjust="spacingAndGlyphs">Leukemia-free</text>
<text x="0" y="0" font-size="8" text-anchor="middle" transform="translate(382.8 224) rotate(-90)" textLength="51" lengthAdjust="spacingAndGlyphs">survival rate (%)</text>
<line x1="403" y1="266.3" x2="417.8" y2="266.3" stroke="#1a1a1a" stroke-width="1.1"/>
<line x1="423.4" y1="266.3" x2="512" y2="266.3" stroke="#1a1a1a" stroke-width="1.1"/>
<line x1="416.2" y1="268.6" x2="420" y2="264.6" stroke="#1a1a1a" stroke-width="1"/>
<line x1="421.4" y1="268.6" x2="425.4" y2="264.6" stroke="#1a1a1a" stroke-width="1"/>
<line x1="406" y1="266.3" x2="406" y2="269" stroke="#1a1a1a" stroke-width="1"/>
<line x1="440.4" y1="266.3" x2="440.4" y2="269" stroke="#1a1a1a" stroke-width="1"/>
<line x1="457.7" y1="266.3" x2="457.7" y2="269" stroke="#1a1a1a" stroke-width="1"/>
<line x1="475" y1="266.3" x2="475" y2="269" stroke="#1a1a1a" stroke-width="1"/>
<line x1="492.3" y1="266.3" x2="492.3" y2="269" stroke="#1a1a1a" stroke-width="1"/>
<line x1="509.6" y1="266.3" x2="509.6" y2="269" stroke="#1a1a1a" stroke-width="1"/>
<text x="406" y="278.44" font-size="6.5" text-anchor="middle" fill="#333">0</text>
<text x="416" y="278.44" font-size="6.5" text-anchor="middle" fill="#333">20</text>
<text x="425.2" y="278.44" font-size="6.5" text-anchor="middle" fill="#333">40</text>
<text x="440.4" y="278.44" font-size="6.5" text-anchor="middle" fill="#333">45</text>
<text x="457.7" y="278.44" font-size="6.5" text-anchor="middle" fill="#333">50</text>
<text x="475" y="278.44" font-size="6.5" text-anchor="middle" fill="#333">55</text>
<text x="492.3" y="278.44" font-size="6.5" text-anchor="middle" fill="#333">60</text>
<text x="509.6" y="278.44" font-size="6.5" text-anchor="middle" fill="#333">65</text>
<text x="459.5" y="289.8" font-size="8.4" text-anchor="middle" textLength="68.1" lengthAdjust="spacingAndGlyphs">Days after the transplant</text>
<polyline points="406,190.5 475,190.5 475,198.08 478.46,198.08 478.46,213.24 481.92,213.24 481.92,235.98 485.38,235.98 485.38,251.14 495.76,251.14 495.76,258.72 499.22,258.72 499.22,266.3" fill="none" stroke="#22507f" stroke-width="1.3" stroke-linejoin="miter"/>
<polyline points="406,190.5 433.48,190.5 433.48,213.24 440.4,213.24 440.4,220.82 450.78,220.82 450.78,228.4 454.24,228.4 454.24,235.98 461.16,235.98 461.16,243.56 464.62,243.56 464.62,251.14 468.08,251.14 468.08,258.72 475,258.72 475,266.3" fill="none" stroke="#968fc6" stroke-width="1.3" stroke-linejoin="miter"/>
<circle cx="433.48" cy="213.24" r="2" fill="#968fc6"/>
<circle cx="440.4" cy="220.82" r="2" fill="#968fc6"/>
<circle cx="450.78" cy="228.4" r="2" fill="#968fc6"/>
<circle cx="454.24" cy="235.98" r="2" fill="#968fc6"/>
<circle cx="461.16" cy="243.56" r="2" fill="#968fc6"/>
<circle cx="464.62" cy="251.14" r="2" fill="#968fc6"/>
<circle cx="468.08" cy="258.72" r="2" fill="#968fc6"/>
<circle cx="475" cy="266.3" r="2" fill="#968fc6"/>
<rect x="473.1" y="196.18" width="3.8" height="3.8" fill="#22507f"/>
<rect x="476.56" y="211.34" width="3.8" height="3.8" fill="#22507f"/>
<rect x="480.02" y="234.08" width="3.8" height="3.8" fill="#22507f"/>
<rect x="483.48" y="249.24" width="3.8" height="3.8" fill="#22507f"/>
<rect x="493.86" y="256.82" width="3.8" height="3.8" fill="#22507f"/>
<rect x="497.32" y="264.4" width="3.8" height="3.8" fill="#22507f"/>
<path d="M500.17 251.69V253.91M499.2 252.25L501.13 253.36M499.2 253.36L501.13 252.25M503.2 251.69V253.91M502.23 252.25L504.17 253.36M502.23 253.36L504.17 252.25M506.23 251.69V253.91M505.27 252.25L507.2 253.36M505.27 253.36L507.2 252.25" stroke="#2a2a2a" stroke-width="0.81" fill="none"/>
<line x1="408.6" y1="242.9" x2="418" y2="242.9" stroke="#968fc6" stroke-width="1.5"/>
<circle cx="413.3" cy="242.9" r="2.3" fill="#968fc6"/>
<text x="421.4" y="245.1" font-size="6.5" fill="#444" textLength="16.6" lengthAdjust="spacingAndGlyphs" class="g">shCtrl</text>
<line x1="408.6" y1="252.4" x2="418" y2="252.4" stroke="#22507f" stroke-width="1.5"/>
<rect x="411.2" y="250.3" width="4.2" height="4.2" fill="#22507f"/>
<text x="421.4" y="254.6" font-size="6.5" fill="#444" textLength="33.8" lengthAdjust="spacingAndGlyphs" class="g">shZDHHC21</text>
<text x="6.8" y="321.2" font-size="12.9" class="L">H</text>
<line x1="37.3" y1="330.7" x2="37.3" y2="434.5" stroke="#1a1a1a" stroke-width="1.1"/>
<line x1="34.3" y1="434" x2="37.3" y2="434" stroke="#1a1a1a" stroke-width="1"/>
<line x1="34.3" y1="413.34" x2="37.3" y2="413.34" stroke="#1a1a1a" stroke-width="1"/>
<line x1="34.3" y1="392.68" x2="37.3" y2="392.68" stroke="#1a1a1a" stroke-width="1"/>
<line x1="34.3" y1="372.02" x2="37.3" y2="372.02" stroke="#1a1a1a" stroke-width="1"/>
<line x1="34.3" y1="351.36" x2="37.3" y2="351.36" stroke="#1a1a1a" stroke-width="1"/>
<line x1="34.3" y1="330.7" x2="37.3" y2="330.7" stroke="#1a1a1a" stroke-width="1"/>
<text x="31.6" y="436.24" font-size="6.5" text-anchor="end" fill="#333">0</text>
<text x="31.6" y="415.58" font-size="6.5" text-anchor="end" fill="#333">100</text>
<text x="31.6" y="394.92" font-size="6.5" text-anchor="end" fill="#333">200</text>
<text x="31.6" y="374.26" font-size="6.5" text-anchor="end" fill="#333">300</text>
<text x="31.6" y="353.6" font-size="6.5" text-anchor="end" fill="#333">400</text>
<text x="31.6" y="332.94" font-size="6.5" text-anchor="end" fill="#333">500</text>
<text x="0" y="0" font-size="8.4" text-anchor="middle" transform="translate(14.3 382.4) rotate(-90)" textLength="49.5" lengthAdjust="spacingAndGlyphs">OCR (pmol/min)</text>
<line x1="34.3" y1="434" x2="195.2" y2="434" stroke="#1a1a1a" stroke-width="1.1"/>
<line x1="37.2" y1="434" x2="37.2" y2="436.8" stroke="#1a1a1a" stroke-width="1"/>
<text x="37.2" y="445.94" font-size="6.5" text-anchor="middle" fill="#333">0</text>
<line x1="76" y1="434" x2="76" y2="436.8" stroke="#1a1a1a" stroke-width="1"/>
<text x="76" y="445.94" font-size="6.5" text-anchor="middle" fill="#333">20</text>
<line x1="114.8" y1="434" x2="114.8" y2="436.8" stroke="#1a1a1a" stroke-width="1"/>
<text x="114.8" y="445.94" font-size="6.5" text-anchor="middle" fill="#333">40</text>
<line x1="153.6" y1="434" x2="153.6" y2="436.8" stroke="#1a1a1a" stroke-width="1"/>
<text x="153.6" y="445.94" font-size="6.5" text-anchor="middle" fill="#333">60</text>
<line x1="192.4" y1="434" x2="192.4" y2="436.8" stroke="#1a1a1a" stroke-width="1"/>
<text x="192.4" y="445.94" font-size="6.5" text-anchor="middle" fill="#333">80</text>
<text x="116.6" y="457.8" font-size="8.6" text-anchor="middle" textLength="47.8" lengthAdjust="spacingAndGlyphs">Time (minutes)</text>
<polyline points="40,395.4 52.55,396.7 65.1,396.7 77.65,414.8 90.2,419.4 102.75,420.5 115.3,352.1 127.85,367.3 140.4,378.9 152.95,423.1 165.5,423.1 178.05,423.1" fill="none" stroke="#e6bc8c" stroke-width="1.15" stroke-linejoin="miter"/>
<polyline points="40,403.5 52.55,404.8 65.1,404.8 77.65,417.4 90.2,420.6 102.75,421.5 115.3,378.6 127.85,392.2 140.4,400 152.95,424.8 165.5,424.8 178.05,424.8" fill="none" stroke="#d09e5c" stroke-width="1.15" stroke-linejoin="miter"/>
<polyline points="40,419 52.55,419 65.1,419.2 77.65,426.6 90.2,427.1 102.75,427.3 115.3,408.5 127.85,415.5 140.4,419.2 152.95,429 165.5,429 178.05,429" fill="none" stroke="#c8c2dc" stroke-width="1.15" stroke-linejoin="miter"/>
<polyline points="40,421.2 52.55,421.8 65.1,422.2 77.65,428.3 90.2,428.4 102.75,428.6 115.3,417.2 127.85,422.5 140.4,425 152.95,430 165.5,430 178.05,430" fill="none" stroke="#8a7cae" stroke-width="1.15" stroke-linejoin="miter"/>
<polyline points="40,411.3 52.55,412.5 65.1,412.5 77.65,421.8 90.2,422.6 102.75,423.2 115.3,393.9 127.85,404.1 140.4,410.1 152.95,426.3 165.5,426.3 178.05,426.3" fill="none" stroke="#b4742c" stroke-width="1.15" stroke-linejoin="miter"/>
<polyline points="40,414.5 52.55,414.8 65.1,414.8 77.65,423.4 90.2,423.9 102.75,424.2 115.3,391 127.85,405.5 140.4,413.2 152.95,428.2 165.5,428.2 178.05,428.2" fill="none" stroke="#8068c2" stroke-width="1.15" stroke-linejoin="miter"/>
<line x1="115.3" y1="347.8" x2="115.3" y2="356.4" stroke="#e6bc8c" stroke-width="0.8"/>
<line x1="113.6" y1="347.8" x2="117" y2="347.8" stroke="#e6bc8c" stroke-width="0.8"/>
<line x1="113.6" y1="356.4" x2="117" y2="356.4" stroke="#e6bc8c" stroke-width="0.8"/>
<line x1="115.3" y1="384.6" x2="115.3" y2="397" stroke="#8a8ad8" stroke-width="0.8"/>
<line x1="113.8" y1="384.6" x2="116.8" y2="384.6" stroke="#8a8ad8" stroke-width="0.8"/>
<line x1="113.8" y1="397" x2="116.8" y2="397" stroke="#8a8ad8" stroke-width="0.8"/>
<rect x="38.4" y="393.8" width="3.2" height="3.2" fill="#e6bc8c"/>
<rect x="50.95" y="395.1" width="3.2" height="3.2" fill="#e6bc8c"/>
<rect x="63.5" y="395.1" width="3.2" height="3.2" fill="#e6bc8c"/>
<rect x="76.05" y="413.2" width="3.2" height="3.2" fill="#e6bc8c"/>
<rect x="88.6" y="417.8" width="3.2" height="3.2" fill="#e6bc8c"/>
<rect x="101.15" y="418.9" width="3.2" height="3.2" fill="#e6bc8c"/>
<rect x="113.7" y="350.5" width="3.2" height="3.2" fill="#e6bc8c"/>
<rect x="126.25" y="365.7" width="3.2" height="3.2" fill="#e6bc8c"/>
<rect x="138.8" y="377.3" width="3.2" height="3.2" fill="#e6bc8c"/>
<rect x="151.35" y="421.5" width="3.2" height="3.2" fill="#e6bc8c"/>
<rect x="163.9" y="421.5" width="3.2" height="3.2" fill="#e6bc8c"/>
<rect x="176.45" y="421.5" width="3.2" height="3.2" fill="#e6bc8c"/>
<circle cx="40" cy="403.5" r="1.8" fill="#d09e5c"/>
<circle cx="52.55" cy="404.8" r="1.8" fill="#d09e5c"/>
<circle cx="65.1" cy="404.8" r="1.8" fill="#d09e5c"/>
<circle cx="77.65" cy="417.4" r="1.8" fill="#d09e5c"/>
<circle cx="90.2" cy="420.6" r="1.8" fill="#d09e5c"/>
<circle cx="102.75" cy="421.5" r="1.8" fill="#d09e5c"/>
<circle cx="115.3" cy="378.6" r="1.8" fill="#d09e5c"/>
<circle cx="127.85" cy="392.2" r="1.8" fill="#d09e5c"/>
<circle cx="140.4" cy="400" r="1.8" fill="#d09e5c"/>
<circle cx="152.95" cy="424.8" r="1.8" fill="#d09e5c"/>
<circle cx="165.5" cy="424.8" r="1.8" fill="#d09e5c"/>
<circle cx="178.05" cy="424.8" r="1.8" fill="#d09e5c"/>
<rect x="38.4" y="417.4" width="3.2" height="3.2" fill="#c8c2dc"/>
<rect x="50.95" y="417.4" width="3.2" height="3.2" fill="#c8c2dc"/>
<rect x="63.5" y="417.6" width="3.2" height="3.2" fill="#c8c2dc"/>
<rect x="76.05" y="425" width="3.2" height="3.2" fill="#c8c2dc"/>
<rect x="88.6" y="425.5" width="3.2" height="3.2" fill="#c8c2dc"/>
<rect x="101.15" y="425.7" width="3.2" height="3.2" fill="#c8c2dc"/>
<rect x="113.7" y="406.9" width="3.2" height="3.2" fill="#c8c2dc"/>
<rect x="126.25" y="413.9" width="3.2" height="3.2" fill="#c8c2dc"/>
<rect x="138.8" y="417.6" width="3.2" height="3.2" fill="#c8c2dc"/>
<rect x="151.35" y="427.4" width="3.2" height="3.2" fill="#c8c2dc"/>
<rect x="163.9" y="427.4" width="3.2" height="3.2" fill="#c8c2dc"/>
<rect x="176.45" y="427.4" width="3.2" height="3.2" fill="#c8c2dc"/>
<circle cx="40" cy="421.2" r="1.8" fill="#8a7cae"/>
<circle cx="52.55" cy="421.8" r="1.8" fill="#8a7cae"/>
<circle cx="65.1" cy="422.2" r="1.8" fill="#8a7cae"/>
<circle cx="77.65" cy="428.3" r="1.8" fill="#8a7cae"/>
<circle cx="90.2" cy="428.4" r="1.8" fill="#8a7cae"/>
<circle cx="102.75" cy="428.6" r="1.8" fill="#8a7cae"/>
<circle cx="115.3" cy="417.2" r="1.8" fill="#8a7cae"/>
<circle cx="127.85" cy="422.5" r="1.8" fill="#8a7cae"/>
<circle cx="140.4" cy="425" r="1.8" fill="#8a7cae"/>
<circle cx="152.95" cy="430" r="1.8" fill="#8a7cae"/>
<circle cx="165.5" cy="430" r="1.8" fill="#8a7cae"/>
<circle cx="178.05" cy="430" r="1.8" fill="#8a7cae"/>
<circle cx="40" cy="411.3" r="1.8" fill="#b4742c"/>
<circle cx="52.55" cy="412.5" r="1.8" fill="#b4742c"/>
<circle cx="65.1" cy="412.5" r="1.8" fill="#b4742c"/>
<circle cx="77.65" cy="421.8" r="1.8" fill="#b4742c"/>
<circle cx="90.2" cy="422.6" r="1.8" fill="#b4742c"/>
<circle cx="102.75" cy="423.2" r="1.8" fill="#b4742c"/>
<circle cx="115.3" cy="393.9" r="1.8" fill="#b4742c"/>
<circle cx="127.85" cy="404.1" r="1.8" fill="#b4742c"/>
<circle cx="140.4" cy="410.1" r="1.8" fill="#b4742c"/>
<circle cx="152.95" cy="426.3" r="1.8" fill="#b4742c"/>
<circle cx="165.5" cy="426.3" r="1.8" fill="#b4742c"/>
<circle cx="178.05" cy="426.3" r="1.8" fill="#b4742c"/>
<circle cx="40" cy="414.5" r="1.8" fill="#8068c2"/>
<circle cx="52.55" cy="414.8" r="1.8" fill="#8068c2"/>
<circle cx="65.1" cy="414.8" r="1.8" fill="#8068c2"/>
<circle cx="77.65" cy="423.4" r="1.8" fill="#8068c2"/>
<circle cx="90.2" cy="423.9" r="1.8" fill="#8068c2"/>
<circle cx="102.75" cy="424.2" r="1.8" fill="#8068c2"/>
<circle cx="115.3" cy="391" r="1.8" fill="#8068c2"/>
<circle cx="127.85" cy="405.5" r="1.8" fill="#8068c2"/>
<circle cx="140.4" cy="413.2" r="1.8" fill="#8068c2"/>
<circle cx="152.95" cy="428.2" r="1.8" fill="#8068c2"/>
<circle cx="165.5" cy="428.2" r="1.8" fill="#8068c2"/>
<circle cx="178.05" cy="428.2" r="1.8" fill="#8068c2"/>
<line x1="202.2" y1="355.5" x2="212.6" y2="355.5" stroke="#8a7cae" stroke-width="1.3"/>
<circle cx="207.4" cy="355.5" r="1.8" fill="#8a7cae"/>
<text x="216" y="358.1" font-size="6.5" fill="#333" textLength="10.1" lengthAdjust="spacingAndGlyphs" class="g">Ctrl</text>
<line x1="202.2" y1="366" x2="212.6" y2="366" stroke="#c8c2dc" stroke-width="1.3"/>
<circle cx="207.4" cy="366" r="1.8" fill="#c8c2dc"/>
<text x="216" y="368.2" font-size="6.5" fill="#333" textLength="34.4" lengthAdjust="spacingAndGlyphs" class="g">2BP (10 µM)</text>
<line x1="202.2" y1="375.8" x2="212.6" y2="375.8" stroke="#8068c2" stroke-width="1.3"/>
<circle cx="207.4" cy="375.8" r="1.8" fill="#8068c2"/>
<text x="216" y="377.9" font-size="6.5" fill="#333" textLength="33.7" lengthAdjust="spacingAndGlyphs" class="g">2BP (20 µM)</text>
<line x1="202.2" y1="385.8" x2="212.6" y2="385.8" stroke="#e6bc8c" stroke-width="1.3"/>
<circle cx="207.4" cy="385.8" r="1.8" fill="#e6bc8c"/>
<text x="216" y="388.1" font-size="6.5" fill="#333" textLength="15.9" lengthAdjust="spacingAndGlyphs" class="g">Ara-C</text>
<line x1="202.2" y1="395.8" x2="212.6" y2="395.8" stroke="#d09e5c" stroke-width="1.3"/>
<circle cx="207.4" cy="395.8" r="1.8" fill="#d09e5c"/>
<text x="216" y="398.1" font-size="6.5" fill="#333" textLength="57.2" lengthAdjust="spacingAndGlyphs" class="g">Ara-C + 2BP (10 µM)</text>
<line x1="202.2" y1="405.8" x2="212.6" y2="405.8" stroke="#b4742c" stroke-width="1.3"/>
<circle cx="207.4" cy="405.8" r="1.8" fill="#b4742c"/>
<text x="216" y="407.9" font-size="6.5" fill="#333" textLength="57.2" lengthAdjust="spacingAndGlyphs" class="g">Ara-C + 2BP (20 µM)</text>
<text x="301.4" y="321" font-size="12.9" class="L">I</text>
<line x1="341" y1="334.4" x2="341" y2="434.3" stroke="#1a1a1a" stroke-width="1.1"/>
<line x1="338" y1="433.8" x2="341" y2="433.8" stroke="#1a1a1a" stroke-width="1"/>
<line x1="338" y1="417.23" x2="341" y2="417.23" stroke="#1a1a1a" stroke-width="1"/>
<line x1="338" y1="400.67" x2="341" y2="400.67" stroke="#1a1a1a" stroke-width="1"/>
<line x1="338" y1="384.1" x2="341" y2="384.1" stroke="#1a1a1a" stroke-width="1"/>
<line x1="338" y1="367.54" x2="341" y2="367.54" stroke="#1a1a1a" stroke-width="1"/>
<line x1="338" y1="350.97" x2="341" y2="350.97" stroke="#1a1a1a" stroke-width="1"/>
<line x1="338" y1="334.4" x2="341" y2="334.4" stroke="#1a1a1a" stroke-width="1"/>
<text x="335.1" y="436" font-size="6.4" text-anchor="end" fill="#333">0</text>
<text x="335.1" y="419.44" font-size="6.4" text-anchor="end" fill="#333">20</text>
<text x="335.1" y="402.87" font-size="6.4" text-anchor="end" fill="#333">40</text>
<text x="335.1" y="386.3" font-size="6.4" text-anchor="end" fill="#333">60</text>
<text x="335.1" y="369.74" font-size="6.4" text-anchor="end" fill="#333">80</text>
<text x="335.1" y="353.17" font-size="6.4" text-anchor="end" fill="#333">100</text>
<text x="335.1" y="336.61" font-size="6.4" text-anchor="end" fill="#333">120</text>
<text x="0" y="0" font-size="8.6" text-anchor="middle" transform="translate(319.3 382.7) rotate(-90)" textLength="59.5" lengthAdjust="spacingAndGlyphs">Cell number (<tspan font-style="italic">x</tspan>10<tspan font-size="5" dy="-3">4</tspan><tspan dy="3">)</tspan></text>
<line x1="338" y1="433.8" x2="429" y2="433.8" stroke="#1a1a1a" stroke-width="1.1"/>
<rect x="346.9" y="352.2" width="9.4" height="81.6" fill="#8a7ec2"/>
<rect x="360.4" y="366.5" width="9.4" height="67.3" fill="#cfc7df"/>
<rect x="374.6" y="375.3" width="9.4" height="58.5" fill="#a688b6"/>
<rect x="388.8" y="400.7" width="9.4" height="33.1" fill="#e5bd92"/>
<rect x="402.9" y="412" width="9.4" height="21.8" fill="#d09a5c"/>
<rect x="416.8" y="419.2" width="9.4" height="14.6" fill="#c6741f"/>
<line x1="351.6" y1="347.6" x2="351.6" y2="356.4" stroke="#111" stroke-width="1"/>
<line x1="349.5" y1="347.6" x2="353.7" y2="347.6" stroke="#111" stroke-width="1"/>
<line x1="349.5" y1="356.4" x2="353.7" y2="356.4" stroke="#111" stroke-width="1"/>
<path d="M351.6 346.36L353.3 349.42L349.9 349.42Z" fill="#111"/>
<circle cx="351.6" cy="351.8" r="1.6" fill="#111"/>
<circle cx="351.6" cy="355.6" r="1.6" fill="#111"/>
<line x1="365.1" y1="364.6" x2="365.1" y2="367.6" stroke="#111" stroke-width="1"/>
<line x1="363" y1="364.6" x2="367.2" y2="364.6" stroke="#111" stroke-width="1"/>
<line x1="363" y1="367.6" x2="367.2" y2="367.6" stroke="#111" stroke-width="1"/>
<circle cx="362.4" cy="366" r="1.6" fill="#111"/>
<circle cx="365.2" cy="365" r="1.6" fill="#111"/>
<circle cx="368" cy="366.2" r="1.6" fill="#111"/>
<line x1="379.3" y1="370.6" x2="379.3" y2="382" stroke="#111" stroke-width="1"/>
<line x1="377.2" y1="370.6" x2="381.4" y2="370.6" stroke="#111" stroke-width="1"/>
<line x1="377.2" y1="382" x2="381.4" y2="382" stroke="#111" stroke-width="1"/>
<circle cx="379.3" cy="371" r="1.6" fill="#111"/>
<circle cx="379.3" cy="376.4" r="1.6" fill="#111"/>
<path d="M379.3 379.56L381 382.62L377.6 382.62Z" fill="#111"/>
<line x1="393.5" y1="398.4" x2="393.5" y2="402.6" stroke="#111" stroke-width="1"/>
<line x1="391.4" y1="398.4" x2="395.6" y2="398.4" stroke="#111" stroke-width="1"/>
<line x1="391.4" y1="402.6" x2="395.6" y2="402.6" stroke="#111" stroke-width="1"/>
<circle cx="391" cy="401.2" r="1.6" fill="#111"/>
<circle cx="393.6" cy="399.2" r="1.6" fill="#111"/>
<circle cx="396.4" cy="400.4" r="1.6" fill="#111"/>
<line x1="407.6" y1="408.4" x2="407.6" y2="416" stroke="#111" stroke-width="1"/>
<line x1="405.5" y1="408.4" x2="409.7" y2="408.4" stroke="#111" stroke-width="1"/>
<line x1="405.5" y1="416" x2="409.7" y2="416" stroke="#111" stroke-width="1"/>
<circle cx="405.2" cy="410.6" r="1.6" fill="#111"/>
<circle cx="407.6" cy="409.2" r="1.6" fill="#111"/>
<path d="M407.6 412.76L409.3 415.82L405.9 415.82Z" fill="#111"/>
<line x1="421.5" y1="415.8" x2="421.5" y2="421.8" stroke="#111" stroke-width="1"/>
<line x1="419.4" y1="415.8" x2="423.6" y2="415.8" stroke="#111" stroke-width="1"/>
<line x1="419.4" y1="421.8" x2="423.6" y2="421.8" stroke="#111" stroke-width="1"/>
<circle cx="418.8" cy="420.2" r="1.6" fill="#111"/>
<circle cx="421.5" cy="418.6" r="1.6" fill="#111"/>
<circle cx="424" cy="419.2" r="1.6" fill="#111"/>
<path d="M363.87 357.1V358.9M363.09 357.55L364.65 358.45M363.09 358.45L364.65 357.55M366.33 357.1V358.9M365.55 357.55L367.11 358.45M365.55 358.45L367.11 357.55" stroke="#2a2a2a" stroke-width="0.66" fill="none"/>
<path d="M378.07 365.9V367.7M377.29 366.35L378.85 367.25M377.29 367.25L378.85 366.35M380.53 365.9V367.7M379.75 366.35L381.31 367.25M379.75 367.25L381.31 366.35" stroke="#2a2a2a" stroke-width="0.66" fill="none"/>
<path d="M391.04 392.5V394.3M390.26 392.95L391.82 393.85M390.26 393.85L391.82 392.95M393.5 392.5V394.3M392.72 392.95L394.28 393.85M392.72 393.85L394.28 392.95M395.96 392.5V394.3M395.18 392.95L396.74 393.85M395.18 393.85L396.74 392.95" stroke="#2a2a2a" stroke-width="0.66" fill="none"/>
<path d="M405.14 404.5V406.3M404.36 404.95L405.92 405.85M404.36 405.85L405.92 404.95M407.6 404.5V406.3M406.82 404.95L408.38 405.85M406.82 405.85L408.38 404.95M410.06 404.5V406.3M409.28 404.95L410.84 405.85M409.28 405.85L410.84 404.95" stroke="#2a2a2a" stroke-width="0.66" fill="none"/>
<path d="M419.04 410.9V412.7M418.26 411.35L419.82 412.25M418.26 412.25L419.82 411.35M421.5 410.9V412.7M420.72 411.35L422.28 412.25M420.72 412.25L422.28 411.35M423.96 410.9V412.7M423.18 411.35L424.74 412.25M423.18 412.25L424.74 411.35" stroke="#2a2a2a" stroke-width="0.66" fill="none"/>
<line x1="393.6" y1="389.5" x2="408.8" y2="389.5" stroke="#2a2a2a" stroke-width="1"/>
<text x="401.2" y="387.4" font-size="5.6" text-anchor="middle" fill="#333" textLength="6.6" lengthAdjust="spacingAndGlyphs" font-style="italic">##</text>
<line x1="393.6" y1="379.5" x2="423.6" y2="379.5" stroke="#2a2a2a" stroke-width="1"/>
<text x="408.6" y="377.6" font-size="5.6" text-anchor="middle" fill="#333" textLength="9.8" lengthAdjust="spacingAndGlyphs" font-style="italic">###</text>
<text x="390.8" y="444.8" font-size="8.2" text-anchor="middle" textLength="13.9" lengthAdjust="spacingAndGlyphs">72 h</text>
<rect x="445.8" y="354" width="6.6" height="6.4" fill="#8a7ec2"/>
<text x="455.8" y="359.2" font-size="6.5" fill="#333" textLength="10.2" lengthAdjust="spacingAndGlyphs" class="g">Ctrl</text>
<rect x="445.8" y="364.1" width="6.6" height="6.4" fill="#cfc7df"/>
<text x="455.8" y="369.3" font-size="6.5" fill="#333" textLength="33.2" lengthAdjust="spacingAndGlyphs" class="g">2BP (10 µM)</text>
<rect x="445.8" y="374.8" width="6.6" height="6.4" fill="#a688b6"/>
<text x="455.8" y="380" font-size="6.5" fill="#333" textLength="33.2" lengthAdjust="spacingAndGlyphs" class="g">2BP (20 µM)</text>
<rect x="445.8" y="385.3" width="6.6" height="6.4" fill="#e5bd92"/>
<text x="455.8" y="390.5" font-size="6.5" fill="#333" textLength="15.6" lengthAdjust="spacingAndGlyphs" class="g">Ara-C</text>
<rect x="445.8" y="395.6" width="6.6" height="6.4" fill="#d09a5c"/>
<text x="455.8" y="400.8" font-size="6.5" fill="#333" textLength="57" lengthAdjust="spacingAndGlyphs" class="g">Ara-C + 2BP (10 µM)</text>
<rect x="445.8" y="405.8" width="6.6" height="6.4" fill="#c6741f"/>
<text x="455.8" y="411" font-size="6.5" fill="#333" textLength="57" lengthAdjust="spacingAndGlyphs" class="g">Ara-C + 2BP (20 µM)</text>
<text x="6.4" y="486.8" font-size="12.9" class="L">J</text>
<line x1="37" y1="502.52" x2="37" y2="589.9" stroke="#1a1a1a" stroke-width="1.1"/>
<line x1="34" y1="589.4" x2="37" y2="589.4" stroke="#1a1a1a" stroke-width="1"/>
<line x1="34" y1="560.44" x2="37" y2="560.44" stroke="#1a1a1a" stroke-width="1"/>
<line x1="34" y1="531.48" x2="37" y2="531.48" stroke="#1a1a1a" stroke-width="1"/>
<line x1="34" y1="502.52" x2="37" y2="502.52" stroke="#1a1a1a" stroke-width="1"/>
<text x="31.6" y="591.6" font-size="6.4" text-anchor="end" fill="#333">0</text>
<text x="31.6" y="562.64" font-size="6.4" text-anchor="end" fill="#333">20</text>
<text x="31.6" y="533.68" font-size="6.4" text-anchor="end" fill="#333">40</text>
<text x="31.6" y="504.72" font-size="6.4" text-anchor="end" fill="#333">60</text>
<text x="0" y="0" font-size="8.4" text-anchor="middle" transform="translate(15 544.5) rotate(-90)" textLength="43.7" lengthAdjust="spacingAndGlyphs">Apoptosis (%)</text>
<line x1="34" y1="589.4" x2="148.5" y2="589.4" stroke="#1a1a1a" stroke-width="1.1"/>
<rect x="49.6" y="580.3" width="11" height="9.1" fill="#8a7ec2"/>
<rect x="65.8" y="572.8" width="11" height="16.6" fill="#cfc7df"/>
<rect x="82" y="562.1" width="11" height="27.3" fill="#a688b6"/>
<rect x="98.4" y="552.9" width="11" height="36.5" fill="#e5bd92"/>
<rect x="114.7" y="528.4" width="11" height="61" fill="#d09a5c"/>
<rect x="131" y="514" width="11" height="75.4" fill="#c6741f"/>
<line x1="55.1" y1="578.2" x2="55.1" y2="582" stroke="#111" stroke-width="1"/>
<line x1="52.8" y1="578.2" x2="57.4" y2="578.2" stroke="#111" stroke-width="1"/>
<line x1="52.8" y1="582" x2="57.4" y2="582" stroke="#111" stroke-width="1"/>
<circle cx="52.6" cy="580.6" r="1.7" fill="#111"/>
<circle cx="55.2" cy="579" r="1.7" fill="#111"/>
<circle cx="57.8" cy="580" r="1.7" fill="#111"/>
<line x1="71.3" y1="570.2" x2="71.3" y2="574" stroke="#111" stroke-width="1"/>
<line x1="69" y1="570.2" x2="73.6" y2="570.2" stroke="#111" stroke-width="1"/>
<line x1="69" y1="574" x2="73.6" y2="574" stroke="#111" stroke-width="1"/>
<circle cx="68.8" cy="573.2" r="1.7" fill="#111"/>
<circle cx="71.4" cy="571.4" r="1.7" fill="#111"/>
<circle cx="74" cy="572.6" r="1.7" fill="#111"/>
<line x1="87.5" y1="558.6" x2="87.5" y2="565.6" stroke="#111" stroke-width="1"/>
<line x1="85.2" y1="558.6" x2="89.8" y2="558.6" stroke="#111" stroke-width="1"/>
<line x1="85.2" y1="565.6" x2="89.8" y2="565.6" stroke="#111" stroke-width="1"/>
<circle cx="85.2" cy="563.6" r="1.7" fill="#111"/>
<circle cx="87.6" cy="561" r="1.7" fill="#111"/>
<circle cx="90.4" cy="559" r="1.7" fill="#111"/>
<line x1="103.9" y1="546.2" x2="103.9" y2="559.2" stroke="#111" stroke-width="1"/>
<line x1="101.6" y1="546.2" x2="106.2" y2="546.2" stroke="#111" stroke-width="1"/>
<line x1="101.6" y1="559.2" x2="106.2" y2="559.2" stroke="#111" stroke-width="1"/>
<path d="M103.9 544.46L105.7 547.7L102.1 547.7Z" fill="#111"/>
<circle cx="103.9" cy="552.6" r="1.7" fill="#111"/>
<path d="M103.9 556.86L105.7 560.1L102.1 560.1Z" fill="#111"/>
<line x1="120.2" y1="522.3" x2="120.2" y2="534.7" stroke="#111" stroke-width="1"/>
<line x1="117.9" y1="522.3" x2="122.5" y2="522.3" stroke="#111" stroke-width="1"/>
<line x1="117.9" y1="534.7" x2="122.5" y2="534.7" stroke="#111" stroke-width="1"/>
<path d="M120.2 520.66L122 523.9L118.4 523.9Z" fill="#111"/>
<circle cx="120.2" cy="528.6" r="1.7" fill="#111"/>
<path d="M120.2 532.26L122 535.5L118.4 535.5Z" fill="#111"/>
<line x1="136.5" y1="507.9" x2="136.5" y2="518.8" stroke="#111" stroke-width="1"/>
<line x1="134.2" y1="507.9" x2="138.8" y2="507.9" stroke="#111" stroke-width="1"/>
<line x1="134.2" y1="518.8" x2="138.8" y2="518.8" stroke="#111" stroke-width="1"/>
<path d="M136.5 506.46L138.3 509.7L134.7 509.7Z" fill="#111"/>
<circle cx="136.5" cy="513.8" r="1.7" fill="#111"/>
<path d="M136.5 516.46L138.3 519.7L134.7 519.7Z" fill="#111"/>
<path d="M70.07 564.3V566.1M69.29 564.75L70.85 565.65M69.29 565.65L70.85 564.75M72.53 564.3V566.1M71.75 564.75L73.31 565.65M71.75 565.65L73.31 564.75" stroke="#2a2a2a" stroke-width="0.66" fill="none"/>
<path d="M85.04 553.7V555.5M84.26 554.15L85.82 555.05M84.26 555.05L85.82 554.15M87.5 553.7V555.5M86.72 554.15L88.28 555.05M86.72 555.05L88.28 554.15M89.96 553.7V555.5M89.18 554.15L90.74 555.05M89.18 555.05L90.74 554.15" stroke="#2a2a2a" stroke-width="0.66" fill="none"/>
<path d="M102.67 540.7V542.5M101.89 541.15L103.45 542.05M101.89 542.05L103.45 541.15M105.13 540.7V542.5M104.35 541.15L105.91 542.05M104.35 542.05L105.91 541.15" stroke="#2a2a2a" stroke-width="0.66" fill="none"/>
<path d="M117.74 517.1V518.9M116.96 517.55L118.52 518.45M116.96 518.45L118.52 517.55M120.2 517.1V518.9M119.42 517.55L120.98 518.45M119.42 518.45L120.98 517.55M122.66 517.1V518.9M121.88 517.55L123.44 518.45M121.88 518.45L123.44 517.55" stroke="#2a2a2a" stroke-width="0.66" fill="none"/>
<path d="M134.04 502.3V504.1M133.26 502.75L134.82 503.65M133.26 503.65L134.82 502.75M136.5 502.3V504.1M135.72 502.75L137.28 503.65M135.72 503.65L137.28 502.75M138.96 502.3V504.1M138.18 502.75L139.74 503.65M138.18 503.65L139.74 502.75" stroke="#2a2a2a" stroke-width="0.66" fill="none"/>
<line x1="104.8" y1="509.5" x2="120.6" y2="509.5" stroke="#2a2a2a" stroke-width="1"/>
<text x="112.6" y="507.9" font-size="5.6" text-anchor="middle" fill="#333" textLength="6.6" lengthAdjust="spacingAndGlyphs" font-style="italic">##</text>
<line x1="104.6" y1="500.5" x2="136.8" y2="500.5" stroke="#2a2a2a" stroke-width="1"/>
<text x="120.6" y="498" font-size="5.6" text-anchor="middle" fill="#333" textLength="6.6" lengthAdjust="spacingAndGlyphs" font-style="italic">##</text>
<text x="92.85" y="600.3" font-size="8.2" text-anchor="middle" textLength="13.9" lengthAdjust="spacingAndGlyphs">72 h</text>
<rect x="154" y="514.8" width="6.9" height="6.4" fill="#8a7ec2"/>
<text x="164" y="520" font-size="6.5" fill="#333" textLength="10.2" lengthAdjust="spacingAndGlyphs" class="g">Ctrl</text>
<rect x="154" y="526" width="6.9" height="6.4" fill="#cfc7df"/>
<text x="164" y="531.2" font-size="6.5" fill="#333" textLength="33.4" lengthAdjust="spacingAndGlyphs" class="g">2BP (10 µM)</text>
<rect x="154" y="536.4" width="6.9" height="6.4" fill="#a688b6"/>
<text x="164" y="541.6" font-size="6.5" fill="#333" textLength="33.4" lengthAdjust="spacingAndGlyphs" class="g">2BP (20 µM)</text>
<rect x="154" y="547.1" width="6.9" height="6.4" fill="#e5bd92"/>
<text x="164" y="552.3" font-size="6.5" fill="#333" textLength="15.8" lengthAdjust="spacingAndGlyphs" class="g">Ara-C</text>
<rect x="154" y="557.5" width="6.9" height="6.4" fill="#d09a5c"/>
<text x="164" y="562.7" font-size="6.5" fill="#333" textLength="57.2" lengthAdjust="spacingAndGlyphs" class="g">Ara-C + 2BP (10 µM)</text>
<rect x="154" y="567.6" width="6.9" height="6.4" fill="#c6741f"/>
<text x="164" y="572.8" font-size="6.5" fill="#333" textLength="57.2" lengthAdjust="spacingAndGlyphs" class="g">Ara-C + 2BP (20 µM)</text>
<text x="253.4" y="486.8" font-size="12.9" class="L">K</text>
<text x="290" y="505.7" font-size="6.8" text-anchor="end" textLength="17.3" lengthAdjust="spacingAndGlyphs">Ara-C</text>
<text x="290.1" y="512.6" font-size="6.8" text-anchor="end" textLength="12" lengthAdjust="spacingAndGlyphs">2BP</text>
<line x1="295.2" y1="504.1" x2="298.2" y2="504.1" stroke="#555" stroke-width="0.8"/>
<line x1="305.8" y1="504.1" x2="308.8" y2="504.1" stroke="#555" stroke-width="0.8"/>
<line x1="316.8" y1="504.1" x2="319.8" y2="504.1" stroke="#555" stroke-width="0.8"/>
<line x1="318.3" y1="502.6" x2="318.3" y2="505.6" stroke="#555" stroke-width="0.8"/>
<line x1="327.9" y1="504.1" x2="330.9" y2="504.1" stroke="#555" stroke-width="0.8"/>
<line x1="329.4" y1="502.6" x2="329.4" y2="505.6" stroke="#555" stroke-width="0.8"/>
<line x1="295.2" y1="511.4" x2="298.2" y2="511.4" stroke="#555" stroke-width="0.8"/>
<line x1="305.8" y1="511.4" x2="308.8" y2="511.4" stroke="#555" stroke-width="0.8"/>
<line x1="307.3" y1="509.9" x2="307.3" y2="512.9" stroke="#555" stroke-width="0.8"/>
<line x1="316.8" y1="511.4" x2="319.8" y2="511.4" stroke="#555" stroke-width="0.8"/>
<line x1="327.9" y1="511.4" x2="330.9" y2="511.4" stroke="#555" stroke-width="0.8"/>
<line x1="329.4" y1="509.9" x2="329.4" y2="512.9" stroke="#555" stroke-width="0.8"/>
<rect x="291.2" y="517.5" width="10.6" height="11.4" fill="#262626"/>
<rect x="301.8" y="517.5" width="10.6" height="11.4" fill="#ffffff"/>
<rect x="312.4" y="517.5" width="11.4" height="11.4" fill="#e84234"/>
<rect x="323.8" y="517.5" width="11.2" height="11.4" fill="#ffffff"/>
<rect x="291.2" y="528.9" width="10.6" height="11.6" fill="#262626"/>
<rect x="301.8" y="528.9" width="10.6" height="11.6" fill="#ffffff"/>
<rect x="312.4" y="528.9" width="11.4" height="11.6" fill="#f07050"/>
<rect x="323.8" y="528.9" width="11.2" height="11.6" fill="#ffffff"/>
<rect x="291.2" y="540.5" width="10.6" height="11.7" fill="#262626"/>
<rect x="301.8" y="540.5" width="10.6" height="11.7" fill="#ffffff"/>
<rect x="312.4" y="540.5" width="11.4" height="11.7" fill="#f9b898"/>
<rect x="323.8" y="540.5" width="11.2" height="11.7" fill="#ffffff"/>
<line x1="291.2" y1="528.9" x2="301.8" y2="528.9" stroke="#6a6a6a" stroke-width="0.9"/>
<line x1="312.4" y1="528.9" x2="323.8" y2="528.9" stroke="#f4a080" stroke-width="0.6"/>
<line x1="291.2" y1="540.5" x2="301.8" y2="540.5" stroke="#6a6a6a" stroke-width="0.9"/>
<line x1="312.4" y1="540.5" x2="323.8" y2="540.5" stroke="#f4a080" stroke-width="0.6"/>
<rect x="312.8" y="517.9" width="10.6" height="33.9" fill="none" stroke="#d83838" stroke-width="1" rx="1"/>
<rect x="291.2" y="554.5" width="10.6" height="11.7" fill="#222426"/>
<rect x="301.8" y="554.5" width="10.6" height="11.7" fill="#f8cfbf"/>
<rect x="312.4" y="554.5" width="11.4" height="11.7" fill="#b8bcc6"/>
<rect x="323.8" y="554.5" width="11.2" height="11.7" fill="#f07a5a"/>
<rect x="291.2" y="566.2" width="10.6" height="11.6" fill="#242424"/>
<rect x="301.8" y="566.2" width="10.6" height="11.6" fill="#c8c8cc"/>
<rect x="312.4" y="566.2" width="11.4" height="11.6" fill="#b0b0b8"/>
<rect x="323.8" y="566.2" width="11.2" height="11.6" fill="#fcece4"/>
<rect x="291.2" y="577.8" width="10.6" height="11.6" fill="#262626"/>
<rect x="301.8" y="577.8" width="10.6" height="11.6" fill="#a6a6a6"/>
<rect x="312.4" y="577.8" width="11.4" height="11.6" fill="#cccccc"/>
<rect x="323.8" y="577.8" width="11.2" height="11.6" fill="#fbe2d6"/>
<line x1="291.2" y1="566.2" x2="323.8" y2="566.2" stroke="#666" stroke-width="0.6"/>
<line x1="291.2" y1="577.8" x2="323.8" y2="577.8" stroke="#666" stroke-width="0.6"/>
<line x1="301.8" y1="554.5" x2="301.8" y2="589.4" stroke="#777" stroke-width="0.5"/>
<line x1="312.4" y1="554.5" x2="312.4" y2="589.4" stroke="#777" stroke-width="0.5"/>
<line x1="323.8" y1="554.5" x2="323.8" y2="589.4" stroke="#777" stroke-width="0.5"/>
<rect x="312.8" y="554.9" width="10.6" height="34.1" fill="none" stroke="#b87480" stroke-width="0.8"/>
<rect x="324.2" y="554.9" width="10.4" height="34.1" fill="none" stroke="#d83838" stroke-width="1" rx="1"/>
<line x1="288.8" y1="518.6" x2="288.8" y2="552.4" stroke="#555" stroke-width="1.1"/>
<line x1="288.8" y1="556.2" x2="288.8" y2="588.8" stroke="#555" stroke-width="1.1"/>
<text x="0" y="0" font-size="8.4" text-anchor="middle" transform="translate(272.5 534.7) rotate(-90)" textLength="16.6" lengthAdjust="spacingAndGlyphs">Ara-C</text>
<text x="0" y="0" font-size="8.4" text-anchor="middle" transform="translate(283.9 534.7) rotate(-90)" textLength="30.8" lengthAdjust="spacingAndGlyphs">sensitivity</text>
<text x="0" y="0" font-size="8.4" text-anchor="middle" transform="translate(272.5 567.9) rotate(-90)" textLength="17.6" lengthAdjust="spacingAndGlyphs">Ara-C</text>
<text x="0" y="0" font-size="8.4" text-anchor="middle" transform="translate(283.6 571.6) rotate(-90)" textLength="30" lengthAdjust="spacingAndGlyphs">resistance</text>
<rect x="360" y="517" width="10.8" height="11.6" fill="#222222"/>
<rect x="370.8" y="517" width="11.2" height="11.6" fill="#404040"/>
<rect x="382" y="517" width="10.8" height="11.6" fill="#b8bcc8"/>
<rect x="392.8" y="517" width="11" height="11.6" fill="#fbd3c0"/>
<rect x="360" y="528.6" width="10.8" height="12" fill="#282828"/>
<rect x="370.8" y="528.6" width="11.2" height="12" fill="#383838"/>
<rect x="382" y="528.6" width="10.8" height="12" fill="#b0aab8"/>
<rect x="392.8" y="528.6" width="11" height="12" fill="#ffffff"/>
<rect x="360" y="540.6" width="10.8" height="12.2" fill="#707070"/>
<rect x="370.8" y="540.6" width="11.2" height="12.2" fill="#a8a8a8"/>
<rect x="382" y="540.6" width="10.8" height="12.2" fill="#fff4f0"/>
<rect x="392.8" y="540.6" width="11" height="12.2" fill="#f28c68"/>
<rect x="360" y="552.8" width="10.8" height="11.8" fill="#1a1a1a"/>
<rect x="370.8" y="552.8" width="11.2" height="11.8" fill="#323232"/>
<rect x="382" y="552.8" width="10.8" height="11.8" fill="#fff7f3"/>
<rect x="392.8" y="552.8" width="11" height="11.8" fill="#ef5c42"/>
<line x1="360" y1="528.6" x2="392.8" y2="528.6" stroke="#777" stroke-width="0.5"/>
<line x1="360" y1="540.6" x2="392.8" y2="540.6" stroke="#777" stroke-width="0.5"/>
<line x1="360" y1="552.8" x2="392.8" y2="552.8" stroke="#777" stroke-width="0.5"/>
<line x1="370.8" y1="517" x2="370.8" y2="564.6" stroke="#777" stroke-width="0.5"/>
<line x1="382" y1="517" x2="382" y2="564.6" stroke="#777" stroke-width="0.5"/>
<line x1="392.8" y1="517" x2="392.8" y2="564.6" stroke="#777" stroke-width="0.5"/>
<rect x="382.4" y="517.4" width="10" height="46.8" fill="none" stroke="#c09098" stroke-width="0.7"/>
<rect x="393.2" y="517.4" width="10.2" height="46.8" fill="none" stroke="#b83c3c" stroke-width="1" rx="1"/>
<line x1="392.8" y1="528.6" x2="403.8" y2="528.6" stroke="#e06050" stroke-width="0.5"/>
<line x1="392.8" y1="540.6" x2="403.8" y2="540.6" stroke="#e06050" stroke-width="0.5"/>
<line x1="392.8" y1="552.8" x2="403.8" y2="552.8" stroke="#e06050" stroke-width="0.5"/>
<line x1="363.8" y1="503.7" x2="366.8" y2="503.7" stroke="#555" stroke-width="0.8"/>
<line x1="374.6" y1="503.7" x2="377.6" y2="503.7" stroke="#555" stroke-width="0.8"/>
<line x1="385.6" y1="503.7" x2="388.6" y2="503.7" stroke="#555" stroke-width="0.8"/>
<line x1="387.1" y1="502.2" x2="387.1" y2="505.2" stroke="#555" stroke-width="0.8"/>
<line x1="396.6" y1="503.7" x2="399.6" y2="503.7" stroke="#555" stroke-width="0.8"/>
<line x1="398.1" y1="502.2" x2="398.1" y2="505.2" stroke="#555" stroke-width="0.8"/>
<line x1="363.8" y1="511.4" x2="366.8" y2="511.4" stroke="#555" stroke-width="0.8"/>
<line x1="374.6" y1="511.4" x2="377.6" y2="511.4" stroke="#555" stroke-width="0.8"/>
<line x1="376.1" y1="509.9" x2="376.1" y2="512.9" stroke="#555" stroke-width="0.8"/>
<line x1="385.6" y1="511.4" x2="388.6" y2="511.4" stroke="#555" stroke-width="0.8"/>
<line x1="396.6" y1="511.4" x2="399.6" y2="511.4" stroke="#555" stroke-width="0.8"/>
<line x1="398.1" y1="509.9" x2="398.1" y2="512.9" stroke="#555" stroke-width="0.8"/>
<line x1="357.2" y1="519.9" x2="357.2" y2="562.5" stroke="#444" stroke-width="1.1"/>
<text x="0" y="0" font-size="8.4" text-anchor="middle" transform="translate(351.6 541.5) rotate(-90)" textLength="12.5" lengthAdjust="spacingAndGlyphs">LSC</text>
<text x="379.8" y="577.2" font-size="7.2" text-anchor="middle" textLength="54.9" lengthAdjust="spacingAndGlyphs">Apoptosis rate (%)</text>
<defs><linearGradient id="cb" x1="0" x2="1" y1="0" y2="0"><stop offset="0" stop-color="#0c0c0c"/><stop offset="0.25" stop-color="#6a6a6a"/><stop offset="0.5" stop-color="#f2f2f2"/><stop offset="0.56" stop-color="#fbe4d8"/><stop offset="0.75" stop-color="#f08a70"/><stop offset="1" stop-color="#900018"/></linearGradient></defs>
<rect x="356.8" y="582.2" width="47.1" height="3.2" fill="url(#cb)"/>
<text x="360.2" y="591.6" font-size="6.4" text-anchor="middle" fill="#333">0</text>
<text x="369.9" y="591.6" font-size="6.4" text-anchor="middle" fill="#333">20</text>
<text x="379" y="591.6" font-size="6.4" text-anchor="middle" fill="#333">40</text>
<text x="387.8" y="591.6" font-size="6.4" text-anchor="middle" fill="#333">60</text>
<text x="397.9" y="591.6" font-size="6.4" text-anchor="middle" fill="#333">80</text>
<line x1="444.2" y1="488.8" x2="444.2" y2="556.4" stroke="#1a1a1a" stroke-width="1.1"/>
<line x1="441.2" y1="555.9" x2="444.2" y2="555.9" stroke="#1a1a1a" stroke-width="1"/>
<line x1="441.2" y1="539.12" x2="444.2" y2="539.12" stroke="#1a1a1a" stroke-width="1"/>
<line x1="441.2" y1="522.35" x2="444.2" y2="522.35" stroke="#1a1a1a" stroke-width="1"/>
<line x1="441.2" y1="505.57" x2="444.2" y2="505.57" stroke="#1a1a1a" stroke-width="1"/>
<line x1="441.2" y1="488.8" x2="444.2" y2="488.8" stroke="#1a1a1a" stroke-width="1"/>
<text x="438.1" y="558.24" font-size="6.8" text-anchor="end" fill="#333">0</text>
<text x="438.1" y="541.46" font-size="6.8" text-anchor="end" fill="#333">20</text>
<text x="438.1" y="524.69" font-size="6.8" text-anchor="end" fill="#333">40</text>
<text x="438.1" y="507.91" font-size="6.8" text-anchor="end" fill="#333">60</text>
<text x="438.1" y="491.14" font-size="6.8" text-anchor="end" fill="#333">80</text>
<text x="0" y="0" font-size="8.6" text-anchor="middle" transform="translate(425.1 521.2) rotate(-90)" textLength="43.5" lengthAdjust="spacingAndGlyphs">Apoptosis (%)</text>
<line x1="441.2" y1="555.9" x2="513.3" y2="555.9" stroke="#1a1a1a" stroke-width="1.1"/>
<rect x="448.3" y="497.7" width="7.6" height="58.2" fill="#f07a5a"/>
<line x1="452.1" y1="555.9" x2="452.1" y2="558.9" stroke="#1a1a1a" stroke-width="1"/>
<rect x="461.9" y="535.6" width="7.6" height="20.3" fill="#bcbcbc"/>
<line x1="465.7" y1="555.9" x2="465.7" y2="558.9" stroke="#1a1a1a" stroke-width="1"/>
<rect x="475.8" y="508.1" width="7.6" height="47.8" fill="#f07a5a"/>
<line x1="479.6" y1="555.9" x2="479.6" y2="558.9" stroke="#1a1a1a" stroke-width="1"/>
<rect x="489.6" y="522.7" width="7.6" height="33.2" fill="#bcbcbc"/>
<line x1="493.4" y1="555.9" x2="493.4" y2="558.9" stroke="#1a1a1a" stroke-width="1"/>
<rect x="503.1" y="503.5" width="7.6" height="52.4" fill="#f07a5a"/>
<line x1="506.9" y1="555.9" x2="506.9" y2="558.9" stroke="#1a1a1a" stroke-width="1"/>
<line x1="452.1" y1="490.8" x2="452.1" y2="504.8" stroke="#111" stroke-width="1"/>
<line x1="450.2" y1="490.8" x2="454" y2="490.8" stroke="#111" stroke-width="1"/>
<line x1="450.2" y1="504.8" x2="454" y2="504.8" stroke="#111" stroke-width="1"/>
<path d="M451.9 489.57L453.5 492.45L450.3 492.45Z" fill="#111"/>
<circle cx="451.9" cy="497.1" r="1.6" fill="#111"/>
<circle cx="451.9" cy="503.8" r="1.6" fill="#111"/>
<line x1="465.7" y1="534.6" x2="465.7" y2="536.6" stroke="#111" stroke-width="1"/>
<line x1="463.8" y1="534.6" x2="467.6" y2="534.6" stroke="#111" stroke-width="1"/>
<line x1="463.8" y1="536.6" x2="467.6" y2="536.6" stroke="#111" stroke-width="1"/>
<circle cx="463.8" cy="536" r="1.6" fill="#111"/>
<circle cx="466" cy="535.4" r="1.6" fill="#111"/>
<circle cx="468.3" cy="535.4" r="1.6" fill="#111"/>
<line x1="479.6" y1="499" x2="479.6" y2="515.4" stroke="#111" stroke-width="1"/>
<line x1="477.7" y1="499" x2="481.5" y2="499" stroke="#111" stroke-width="1"/>
<line x1="477.7" y1="515.4" x2="481.5" y2="515.4" stroke="#111" stroke-width="1"/>
<path d="M479.6 497.47L481.2 500.35L478 500.35Z" fill="#111"/>
<circle cx="479.6" cy="509.6" r="1.6" fill="#111"/>
<path d="M479.6 512.47L481.2 515.35L478 515.35Z" fill="#111"/>
<line x1="493.4" y1="511.5" x2="493.4" y2="533.7" stroke="#111" stroke-width="1"/>
<line x1="491.5" y1="511.5" x2="495.3" y2="511.5" stroke="#111" stroke-width="1"/>
<line x1="491.5" y1="533.7" x2="495.3" y2="533.7" stroke="#111" stroke-width="1"/>
<circle cx="493.4" cy="512.5" r="1.6" fill="#111"/>
<circle cx="496.4" cy="513" r="1.6" fill="#111"/>
<circle cx="493.4" cy="532.6" r="1.6" fill="#111"/>
<line x1="506.9" y1="492.7" x2="506.9" y2="515.4" stroke="#111" stroke-width="1"/>
<line x1="505" y1="492.7" x2="508.8" y2="492.7" stroke="#111" stroke-width="1"/>
<line x1="505" y1="515.4" x2="508.8" y2="515.4" stroke="#111" stroke-width="1"/>
<path d="M506.9 491.07L508.5 493.95L505.3 493.95Z" fill="#111"/>
<circle cx="506.9" cy="498.2" r="1.6" fill="#111"/>
<circle cx="506.9" cy="506.6" r="1.6" fill="#111"/>
<path d="M506.9 512.47L508.5 515.35L505.3 515.35Z" fill="#111"/>
<polyline points="451.9,487.6 451.9,483.7 465.8,483.7 479.6,483.7 479.6,488.5" fill="none" stroke="#111" stroke-width="1.2" stroke-linejoin="miter"/>
<line x1="465.8" y1="483.7" x2="465.8" y2="528.8" stroke="#111" stroke-width="1.3"/>
<polyline points="493.5,511.5 493.5,483.7 506.8,483.7 506.8,488.5" fill="none" stroke="#111" stroke-width="1.2" stroke-linejoin="miter"/>
<text x="458.6" y="482" font-size="6.4" text-anchor="middle">***</text>
<text x="472.8" y="482" font-size="6.4" text-anchor="middle">**</text>
<text x="500.2" y="482" font-size="6.4" text-anchor="middle">**</text>
<text x="437.7" y="568.5" font-size="7" text-anchor="end" textLength="17.3" lengthAdjust="spacingAndGlyphs">Ara-C</text>
<text x="437.7" y="578.5" font-size="7" text-anchor="end" textLength="12.1" lengthAdjust="spacingAndGlyphs">2BP</text>
<line x1="449.9" y1="566" x2="453.1" y2="566" stroke="#555" stroke-width="0.8"/>
<line x1="451.5" y1="564.4" x2="451.5" y2="567.6" stroke="#555" stroke-width="0.8"/>
<line x1="463.8" y1="566" x2="467" y2="566" stroke="#555" stroke-width="0.8"/>
<line x1="465.4" y1="564.4" x2="465.4" y2="567.6" stroke="#555" stroke-width="0.8"/>
<line x1="477.8" y1="566" x2="481" y2="566" stroke="#555" stroke-width="0.8"/>
<line x1="479.4" y1="564.4" x2="479.4" y2="567.6" stroke="#555" stroke-width="0.8"/>
<line x1="491.3" y1="566" x2="494.5" y2="566" stroke="#555" stroke-width="0.8"/>
<line x1="492.9" y1="564.4" x2="492.9" y2="567.6" stroke="#555" stroke-width="0.8"/>
<line x1="505.3" y1="566" x2="508.5" y2="566" stroke="#555" stroke-width="0.8"/>
<line x1="506.9" y1="564.4" x2="506.9" y2="567.6" stroke="#555" stroke-width="0.8"/>
<line x1="450.1" y1="576.5" x2="452.9" y2="576.5" stroke="#777" stroke-width="0.8"/>
<line x1="464" y1="576.5" x2="466.8" y2="576.5" stroke="#777" stroke-width="0.8"/>
<line x1="477.8" y1="576.5" x2="481" y2="576.5" stroke="#555" stroke-width="0.8"/>
<line x1="479.4" y1="574.9" x2="479.4" y2="578.1" stroke="#555" stroke-width="0.8"/>
<line x1="491.5" y1="576.5" x2="494.3" y2="576.5" stroke="#777" stroke-width="0.8"/>
<line x1="505.3" y1="576.5" x2="508.5" y2="576.5" stroke="#555" stroke-width="0.8"/>
<line x1="506.9" y1="574.9" x2="506.9" y2="578.1" stroke="#555" stroke-width="0.8"/>
<line x1="449.2" y1="583.5" x2="454.4" y2="583.5" stroke="#222" stroke-width="1.1"/>
<line x1="462.7" y1="583.5" x2="481.9" y2="583.5" stroke="#222" stroke-width="1.1"/>
<line x1="490" y1="583.5" x2="509.2" y2="583.5" stroke="#222" stroke-width="1.1"/>
<text x="0" y="0" font-size="7" text-anchor="end" transform="translate(453.6 591.6) rotate(-45)" textLength="25.8" lengthAdjust="spacingAndGlyphs">Ara-C (S)</text>
<text x="0" y="0" font-size="7" text-anchor="end" transform="translate(481.4 591.6) rotate(-45)" textLength="26.2" lengthAdjust="spacingAndGlyphs">Ara-C (R)</text>
<text x="0" y="0" font-size="7" text-anchor="end" transform="translate(509.6 590.8) rotate(-45)" textLength="12.6" lengthAdjust="spacingAndGlyphs">LSC</text>
</svg>
<div style="position:absolute;left:0;top:0;width:518px;height:616px;border:1px solid #575757;"></div>
</body></html>
